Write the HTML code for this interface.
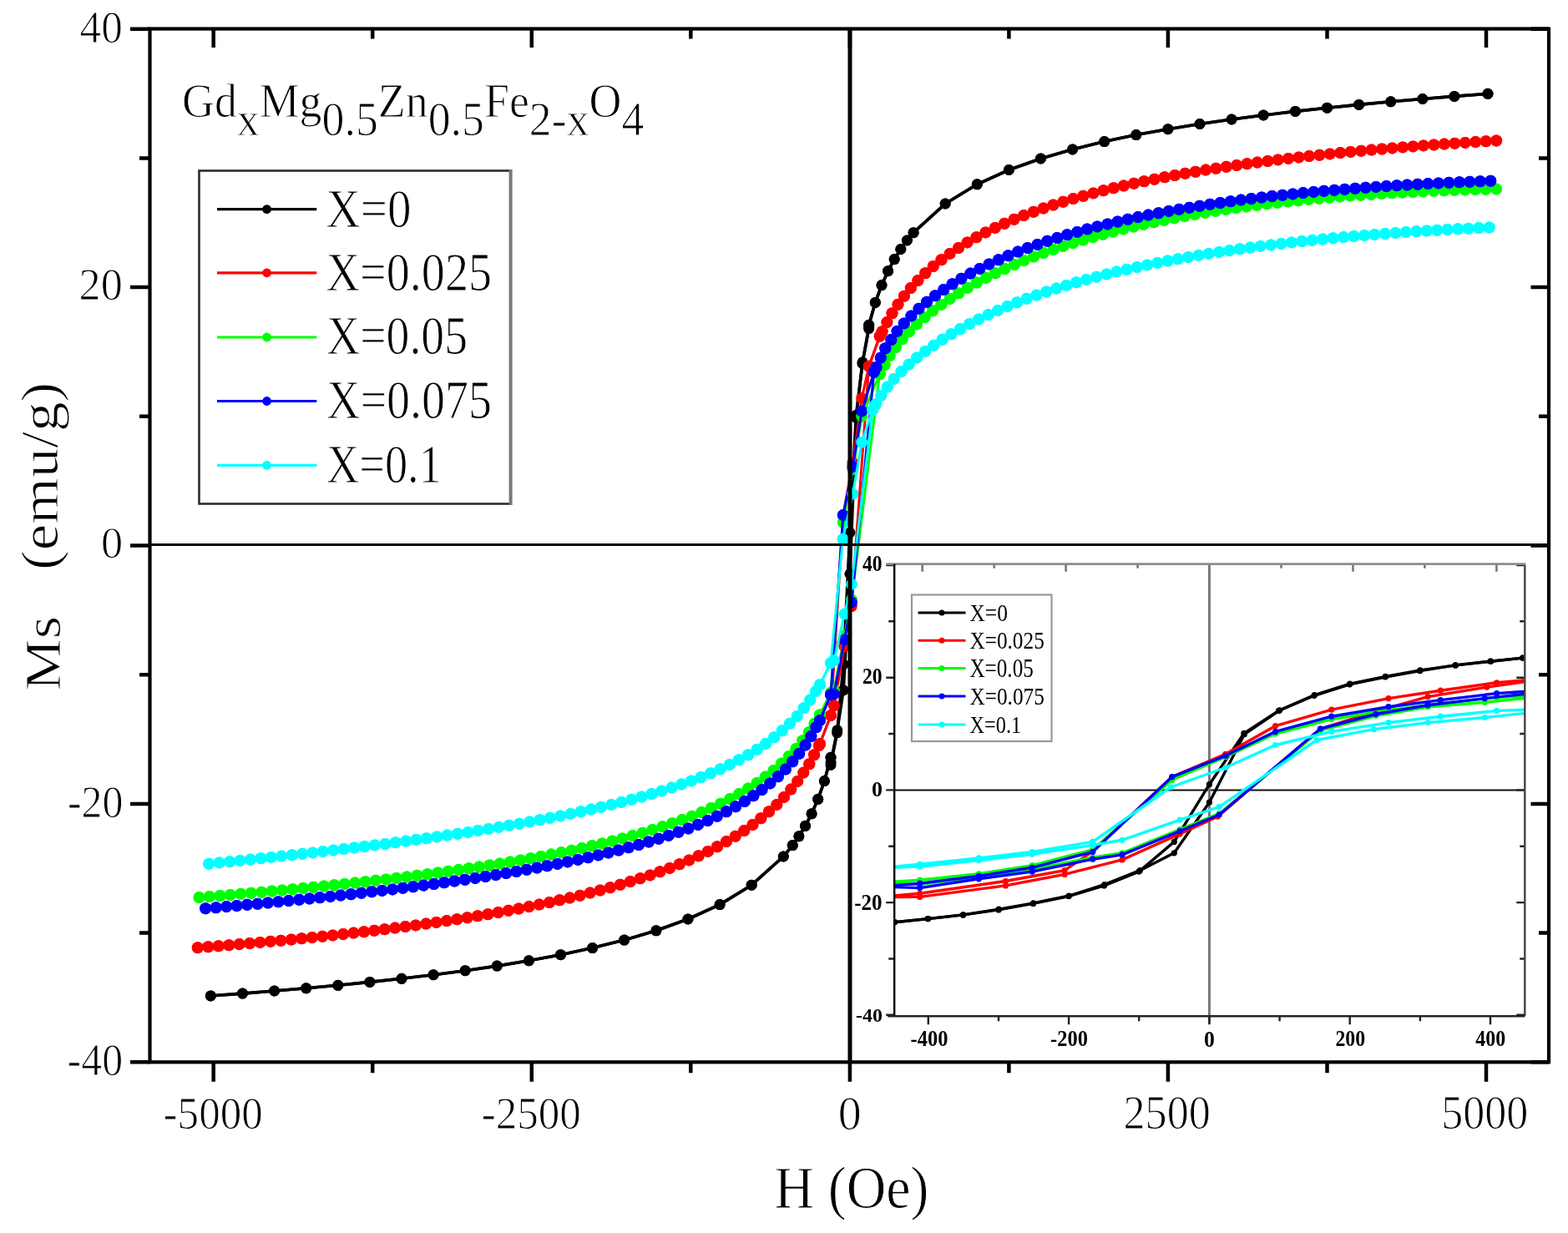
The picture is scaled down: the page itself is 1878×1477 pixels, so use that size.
<!DOCTYPE html>
<html><head><meta charset="utf-8"><title>M-H loops</title><style>html,body{margin:0;padding:0;background:#fff;}svg{display:block;}#w{width:1878px;height:1477px;overflow:hidden;}</style></head><body><div id="w">
<svg width="1878" height="1477" viewBox="0 0 1878 1477" font-family="'Liberation Serif', 'Times New Roman', serif">
<rect width="1878" height="1477" fill="#fff"/>
<path d="M156.0,1272.3H179.5 M1855,1272.3H1833.5 M167.0,1117.6H179.5 M1855,1117.6H1843 M156.0,962.9H179.5 M1855,962.9H1833.5 M167.0,808.2H179.5 M1855,808.2H1843 M156.0,653.5H179.5 M1855,653.5H1833.5 M167.0,498.8H179.5 M1855,498.8H1843 M156.0,344.1H179.5 M1855,344.1H1833.5 M167.0,189.4H179.5 M1855,189.4H1843 M156.0,34.7H179.5 M1855,34.7H1833.5 M255.7,1272.3V1295.8 M255.7,34.5V57.0 M446.2,1272.3V1285.3 M446.2,34.5V46.5 M636.8,1272.3V1295.8 M636.8,34.5V57.0 M827.3,1272.3V1285.3 M827.3,34.5V46.5 M1017.9,1272.3V1295.8 M1017.9,34.5V57.0 M1208.4,1272.3V1285.3 M1208.4,34.5V46.5 M1398.9,1272.3V1295.8 M1398.9,34.5V57.0 M1589.5,1272.3V1285.3 M1589.5,34.5V46.5 M1780.0,1272.3V1295.8 M1780.0,34.5V57.0" stroke="#000" stroke-width="4.5" fill="none"/>
<g fill="#000000" stroke="#000000"><polyline points="1782.0,112.3 1741.9,115.4 1703.8,118.5 1665.7,121.8 1627.6,125.4 1589.5,129.2 1551.4,133.4 1513.2,138.0 1475.1,143.0 1437.0,148.5 1398.9,154.7 1360.8,161.6 1322.7,169.6 1284.6,178.9 1246.5,190.0 1208.4,203.5 1170.3,220.8 1132.2,244.0 1094.1,278.7 1086.4,288.0 1078.8,298.5 1071.2,310.6 1063.6,324.7 1056.0,341.6 1048.3,362.4 1040.7,389.3 1040.6,393.6 1032.9,435.4 1025.4,497.3 1017.9,638.0 1010.2,795.8 1002.6,877.8 995.0,916.5 995.0,907.3 987.4,935.6 979.7,957.3 972.1,974.8 964.5,989.3 956.9,1001.8 949.3,1012.6 938.3,1026.0 900.2,1060.2 862.1,1083.6 824.0,1101.0 785.9,1114.8 747.7,1126.1 709.6,1135.6 671.5,1143.7 633.4,1150.8 595.3,1157.1 557.2,1162.7 519.1,1167.7 481.0,1172.3 442.9,1176.4 404.8,1180.3 366.7,1183.8 328.6,1187.0 290.5,1190.1 252.3,1192.9" fill="none" stroke-width="3.6" stroke-linejoin="round"/><polyline points="252.3,1192.9 290.5,1190.1 328.6,1187.0 366.7,1183.8 404.8,1180.3 442.9,1176.4 481.0,1172.3 519.1,1167.7 557.2,1162.7 595.3,1157.1 633.4,1150.8 671.5,1143.7 709.6,1135.6 747.7,1126.1 785.9,1114.8 824.0,1101.0 862.1,1083.6 900.2,1060.2 938.3,1026.0 949.3,1012.6 956.9,1001.8 964.5,989.3 972.1,974.8 979.7,957.3 987.4,935.6 995.0,907.3 995.1,913.4 1002.8,874.7 1010.2,826.8 1017.9,687.5 1025.4,500.3 1033.1,433.8 1040.7,392.1 1040.7,389.3 1048.3,362.4 1056.0,341.6 1063.6,324.7 1071.2,310.6 1078.8,298.5 1086.4,288.0 1094.1,278.7 1132.2,244.0 1170.3,220.8 1208.4,203.5 1246.5,190.0 1284.6,178.9 1322.7,169.6 1360.8,161.6 1398.9,154.7 1437.0,148.5 1475.1,143.0 1513.2,138.0 1551.4,133.4 1589.5,129.2 1627.6,125.4 1665.7,121.8 1703.8,118.5 1741.9,115.4 1782.0,112.3" fill="none" stroke-width="3.6" stroke-linejoin="round"/><circle cx="1782.0" cy="112.3" r="6.5" stroke="none"/><circle cx="1741.9" cy="115.4" r="6.5" stroke="none"/><circle cx="1703.8" cy="118.5" r="6.5" stroke="none"/><circle cx="1665.7" cy="121.8" r="6.5" stroke="none"/><circle cx="1627.6" cy="125.4" r="6.5" stroke="none"/><circle cx="1589.5" cy="129.2" r="6.5" stroke="none"/><circle cx="1551.4" cy="133.4" r="6.5" stroke="none"/><circle cx="1513.2" cy="138.0" r="6.5" stroke="none"/><circle cx="1475.1" cy="143.0" r="6.5" stroke="none"/><circle cx="1437.0" cy="148.5" r="6.5" stroke="none"/><circle cx="1398.9" cy="154.7" r="6.5" stroke="none"/><circle cx="1360.8" cy="161.6" r="6.5" stroke="none"/><circle cx="1322.7" cy="169.6" r="6.5" stroke="none"/><circle cx="1284.6" cy="178.9" r="6.5" stroke="none"/><circle cx="1246.5" cy="190.0" r="6.5" stroke="none"/><circle cx="1208.4" cy="203.5" r="6.5" stroke="none"/><circle cx="1170.3" cy="220.8" r="6.5" stroke="none"/><circle cx="1132.2" cy="244.0" r="6.5" stroke="none"/><circle cx="1094.1" cy="278.7" r="6.5" stroke="none"/><circle cx="1086.4" cy="288.0" r="6.5" stroke="none"/><circle cx="1078.8" cy="298.5" r="6.5" stroke="none"/><circle cx="1071.2" cy="310.6" r="6.5" stroke="none"/><circle cx="1063.6" cy="324.7" r="6.5" stroke="none"/><circle cx="1056.0" cy="341.6" r="6.5" stroke="none"/><circle cx="1048.3" cy="362.4" r="6.5" stroke="none"/><circle cx="1040.7" cy="389.3" r="6.5" stroke="none"/><circle cx="1040.6" cy="393.6" r="6.5" stroke="none"/><circle cx="1032.9" cy="435.4" r="6.5" stroke="none"/><circle cx="1025.4" cy="497.3" r="6.5" stroke="none"/><circle cx="1017.9" cy="638.0" r="6.5" stroke="none"/><circle cx="1010.2" cy="795.8" r="6.5" stroke="none"/><circle cx="1002.6" cy="877.8" r="6.5" stroke="none"/><circle cx="995.0" cy="916.5" r="6.5" stroke="none"/><circle cx="995.0" cy="907.3" r="6.5" stroke="none"/><circle cx="987.4" cy="935.6" r="6.5" stroke="none"/><circle cx="979.7" cy="957.3" r="6.5" stroke="none"/><circle cx="972.1" cy="974.8" r="6.5" stroke="none"/><circle cx="964.5" cy="989.3" r="6.5" stroke="none"/><circle cx="956.9" cy="1001.8" r="6.5" stroke="none"/><circle cx="949.3" cy="1012.6" r="6.5" stroke="none"/><circle cx="938.3" cy="1026.0" r="6.5" stroke="none"/><circle cx="900.2" cy="1060.2" r="6.5" stroke="none"/><circle cx="862.1" cy="1083.6" r="6.5" stroke="none"/><circle cx="824.0" cy="1101.0" r="6.5" stroke="none"/><circle cx="785.9" cy="1114.8" r="6.5" stroke="none"/><circle cx="747.7" cy="1126.1" r="6.5" stroke="none"/><circle cx="709.6" cy="1135.6" r="6.5" stroke="none"/><circle cx="671.5" cy="1143.7" r="6.5" stroke="none"/><circle cx="633.4" cy="1150.8" r="6.5" stroke="none"/><circle cx="595.3" cy="1157.1" r="6.5" stroke="none"/><circle cx="557.2" cy="1162.7" r="6.5" stroke="none"/><circle cx="519.1" cy="1167.7" r="6.5" stroke="none"/><circle cx="481.0" cy="1172.3" r="6.5" stroke="none"/><circle cx="442.9" cy="1176.4" r="6.5" stroke="none"/><circle cx="404.8" cy="1180.3" r="6.5" stroke="none"/><circle cx="366.7" cy="1183.8" r="6.5" stroke="none"/><circle cx="328.6" cy="1187.0" r="6.5" stroke="none"/><circle cx="290.5" cy="1190.1" r="6.5" stroke="none"/><circle cx="252.3" cy="1192.9" r="6.5" stroke="none"/><circle cx="252.3" cy="1192.9" r="6.5" stroke="none"/><circle cx="290.5" cy="1190.1" r="6.5" stroke="none"/><circle cx="328.6" cy="1187.0" r="6.5" stroke="none"/><circle cx="366.7" cy="1183.8" r="6.5" stroke="none"/><circle cx="404.8" cy="1180.3" r="6.5" stroke="none"/><circle cx="442.9" cy="1176.4" r="6.5" stroke="none"/><circle cx="481.0" cy="1172.3" r="6.5" stroke="none"/><circle cx="519.1" cy="1167.7" r="6.5" stroke="none"/><circle cx="557.2" cy="1162.7" r="6.5" stroke="none"/><circle cx="595.3" cy="1157.1" r="6.5" stroke="none"/><circle cx="633.4" cy="1150.8" r="6.5" stroke="none"/><circle cx="671.5" cy="1143.7" r="6.5" stroke="none"/><circle cx="709.6" cy="1135.6" r="6.5" stroke="none"/><circle cx="747.7" cy="1126.1" r="6.5" stroke="none"/><circle cx="785.9" cy="1114.8" r="6.5" stroke="none"/><circle cx="824.0" cy="1101.0" r="6.5" stroke="none"/><circle cx="862.1" cy="1083.6" r="6.5" stroke="none"/><circle cx="900.2" cy="1060.2" r="6.5" stroke="none"/><circle cx="938.3" cy="1026.0" r="6.5" stroke="none"/><circle cx="949.3" cy="1012.6" r="6.5" stroke="none"/><circle cx="956.9" cy="1001.8" r="6.5" stroke="none"/><circle cx="964.5" cy="989.3" r="6.5" stroke="none"/><circle cx="972.1" cy="974.8" r="6.5" stroke="none"/><circle cx="979.7" cy="957.3" r="6.5" stroke="none"/><circle cx="987.4" cy="935.6" r="6.5" stroke="none"/><circle cx="995.0" cy="907.3" r="6.5" stroke="none"/><circle cx="995.1" cy="913.4" r="6.5" stroke="none"/><circle cx="1002.8" cy="874.7" r="6.5" stroke="none"/><circle cx="1010.2" cy="826.8" r="6.5" stroke="none"/><circle cx="1017.9" cy="687.5" r="6.5" stroke="none"/><circle cx="1025.4" cy="500.3" r="6.5" stroke="none"/><circle cx="1033.1" cy="433.8" r="6.5" stroke="none"/><circle cx="1040.7" cy="392.1" r="6.5" stroke="none"/><circle cx="1040.7" cy="389.3" r="6.5" stroke="none"/><circle cx="1048.3" cy="362.4" r="6.5" stroke="none"/><circle cx="1056.0" cy="341.6" r="6.5" stroke="none"/><circle cx="1063.6" cy="324.7" r="6.5" stroke="none"/><circle cx="1071.2" cy="310.6" r="6.5" stroke="none"/><circle cx="1078.8" cy="298.5" r="6.5" stroke="none"/><circle cx="1086.4" cy="288.0" r="6.5" stroke="none"/><circle cx="1094.1" cy="278.7" r="6.5" stroke="none"/><circle cx="1132.2" cy="244.0" r="6.5" stroke="none"/><circle cx="1170.3" cy="220.8" r="6.5" stroke="none"/><circle cx="1208.4" cy="203.5" r="6.5" stroke="none"/><circle cx="1246.5" cy="190.0" r="6.5" stroke="none"/><circle cx="1284.6" cy="178.9" r="6.5" stroke="none"/><circle cx="1322.7" cy="169.6" r="6.5" stroke="none"/><circle cx="1360.8" cy="161.6" r="6.5" stroke="none"/><circle cx="1398.9" cy="154.7" r="6.5" stroke="none"/><circle cx="1437.0" cy="148.5" r="6.5" stroke="none"/><circle cx="1475.1" cy="143.0" r="6.5" stroke="none"/><circle cx="1513.2" cy="138.0" r="6.5" stroke="none"/><circle cx="1551.4" cy="133.4" r="6.5" stroke="none"/><circle cx="1589.5" cy="129.2" r="6.5" stroke="none"/><circle cx="1627.6" cy="125.4" r="6.5" stroke="none"/><circle cx="1665.7" cy="121.8" r="6.5" stroke="none"/><circle cx="1703.8" cy="118.5" r="6.5" stroke="none"/><circle cx="1741.9" cy="115.4" r="6.5" stroke="none"/><circle cx="1782.0" cy="112.3" r="6.5" stroke="none"/></g>
<g fill="#ff0000" stroke="#ff0000"><polyline points="1792.2,168.5 1779.2,169.3 1766.3,170.1 1753.3,171.0 1740.4,171.9 1727.4,172.8 1714.5,173.7 1701.5,174.7 1688.5,175.7 1675.6,176.7 1662.6,177.8 1649.7,179.0 1636.7,180.1 1623.8,181.3 1610.8,182.6 1597.8,183.9 1584.9,185.2 1571.9,186.6 1559.0,188.0 1546.0,189.5 1533.1,191.1 1520.1,192.7 1507.2,194.4 1494.2,196.2 1481.2,198.0 1468.3,199.9 1455.3,201.8 1442.4,203.9 1429.4,206.1 1416.5,208.3 1403.5,210.6 1390.5,213.1 1377.6,215.7 1364.6,218.4 1351.7,221.2 1338.7,224.1 1325.8,227.3 1312.8,230.6 1299.8,234.0 1286.9,237.7 1273.9,241.6 1261.0,245.7 1248.0,250.0 1235.1,254.7 1222.1,259.7 1209.1,265.0 1196.2,270.8 1183.2,277.0 1170.3,283.7 1157.3,291.1 1144.4,299.2 1131.4,308.3 1118.5,318.4 1105.5,329.8 1092.5,343.1 1079.6,358.7 1066.6,377.9 1053.7,402.8 1040.7,438.8 1032.2,477.1 1021.4,554.5 1009.8,617.1 995.0,857.0 982.0,891.0 969.1,915.6 956.1,934.8 943.2,950.6 930.2,964.0 917.2,975.6 904.3,985.9 891.3,995.0 878.4,1003.3 865.4,1010.8 852.5,1017.7 839.5,1024.0 826.6,1029.9 813.6,1035.4 800.6,1040.5 787.7,1045.2 774.7,1049.7 761.8,1054.0 748.8,1058.0 735.9,1061.8 722.9,1065.4 709.9,1068.8 697.0,1072.1 684.0,1075.2 671.1,1078.2 658.1,1081.0 645.2,1083.7 632.2,1086.4 619.2,1088.9 606.3,1091.3 593.3,1093.6 580.4,1095.8 567.4,1098.0 554.5,1100.1 541.5,1102.1 528.5,1104.0 515.6,1105.9 502.6,1107.7 489.7,1109.5 476.7,1111.2 463.8,1112.8 450.8,1114.4 437.9,1116.0 424.9,1117.5 411.9,1118.9 399.0,1120.3 386.0,1121.7 373.1,1123.1 360.1,1124.4 347.2,1125.6 334.2,1126.9 321.2,1128.1 308.3,1129.2 295.3,1130.4 282.4,1131.5 269.4,1132.6 256.5,1133.6 243.5,1134.7 236.8,1135.2" fill="none" stroke-width="3" stroke-linejoin="round"/><polyline points="236.8,1135.2 243.5,1134.7 256.5,1133.6 269.4,1132.6 282.4,1131.5 295.3,1130.4 308.3,1129.2 321.2,1128.1 334.2,1126.9 347.2,1125.6 360.1,1124.4 373.1,1123.1 386.0,1121.7 399.0,1120.3 411.9,1118.9 424.9,1117.5 437.9,1116.0 450.8,1114.4 463.8,1112.8 476.7,1111.2 489.7,1109.5 502.6,1107.7 515.6,1105.9 528.5,1104.0 541.5,1102.1 554.5,1100.1 567.4,1098.0 580.4,1095.8 593.3,1093.6 606.3,1091.3 619.2,1088.9 632.2,1086.4 645.2,1083.7 658.1,1081.0 671.1,1078.2 684.0,1075.2 697.0,1072.1 709.9,1068.8 722.9,1065.4 735.9,1061.8 748.8,1058.0 761.8,1054.0 774.7,1049.7 787.7,1045.2 800.6,1040.5 813.6,1035.4 826.6,1029.9 839.5,1024.0 852.5,1017.7 865.4,1010.8 878.4,1003.3 891.3,995.0 904.3,985.9 917.2,975.6 930.2,964.0 943.2,950.6 956.1,934.8 969.1,915.6 982.0,891.0 995.0,857.0 998.9,845.3 1011.4,774.2 1019.7,726.2 1040.7,438.8 1053.7,402.8 1066.6,377.9 1079.6,358.7 1092.5,343.1 1105.5,329.8 1118.5,318.4 1131.4,308.3 1144.4,299.2 1157.3,291.1 1170.3,283.7 1183.2,277.0 1196.2,270.8 1209.1,265.0 1222.1,259.7 1235.1,254.7 1248.0,250.0 1261.0,245.7 1273.9,241.6 1286.9,237.7 1299.8,234.0 1312.8,230.6 1325.8,227.3 1338.7,224.1 1351.7,221.2 1364.6,218.4 1377.6,215.7 1390.5,213.1 1403.5,210.6 1416.5,208.3 1429.4,206.1 1442.4,203.9 1455.3,201.8 1468.3,199.9 1481.2,198.0 1494.2,196.2 1507.2,194.4 1520.1,192.7 1533.1,191.1 1546.0,189.5 1559.0,188.0 1571.9,186.6 1584.9,185.2 1597.8,183.9 1610.8,182.6 1623.8,181.3 1636.7,180.1 1649.7,179.0 1662.6,177.8 1675.6,176.7 1688.5,175.7 1701.5,174.7 1714.5,173.7 1727.4,172.8 1740.4,171.9 1753.3,171.0 1766.3,170.1 1779.2,169.3 1792.2,168.5" fill="none" stroke-width="3" stroke-linejoin="round"/><circle cx="1792.2" cy="168.5" r="7.0" stroke="none"/><circle cx="1779.7" cy="169.3" r="7.0" stroke="none"/><circle cx="1767.2" cy="170.1" r="7.0" stroke="none"/><circle cx="1754.8" cy="170.9" r="7.0" stroke="none"/><circle cx="1742.3" cy="171.7" r="7.0" stroke="none"/><circle cx="1729.8" cy="172.6" r="7.0" stroke="none"/><circle cx="1717.4" cy="173.5" r="7.0" stroke="none"/><circle cx="1704.9" cy="174.4" r="7.0" stroke="none"/><circle cx="1692.4" cy="175.4" r="7.0" stroke="none"/><circle cx="1680.0" cy="176.4" r="7.0" stroke="none"/><circle cx="1667.5" cy="177.4" r="7.0" stroke="none"/><circle cx="1655.1" cy="178.5" r="7.0" stroke="none"/><circle cx="1642.6" cy="179.6" r="7.0" stroke="none"/><circle cx="1630.2" cy="180.7" r="7.0" stroke="none"/><circle cx="1617.7" cy="181.9" r="7.0" stroke="none"/><circle cx="1605.3" cy="183.1" r="7.0" stroke="none"/><circle cx="1592.8" cy="184.4" r="7.0" stroke="none"/><circle cx="1580.4" cy="185.7" r="7.0" stroke="none"/><circle cx="1568.0" cy="187.0" r="7.0" stroke="none"/><circle cx="1555.6" cy="188.4" r="7.0" stroke="none"/><circle cx="1543.1" cy="189.9" r="7.0" stroke="none"/><circle cx="1530.7" cy="191.4" r="7.0" stroke="none"/><circle cx="1518.3" cy="193.0" r="7.0" stroke="none"/><circle cx="1505.9" cy="194.6" r="7.0" stroke="none"/><circle cx="1493.6" cy="196.2" r="7.0" stroke="none"/><circle cx="1481.2" cy="198.0" r="7.0" stroke="none"/><circle cx="1468.8" cy="199.8" r="7.0" stroke="none"/><circle cx="1456.4" cy="201.7" r="7.0" stroke="none"/><circle cx="1444.1" cy="203.6" r="7.0" stroke="none"/><circle cx="1431.8" cy="205.7" r="7.0" stroke="none"/><circle cx="1419.4" cy="207.8" r="7.0" stroke="none"/><circle cx="1407.1" cy="210.0" r="7.0" stroke="none"/><circle cx="1394.9" cy="212.3" r="7.0" stroke="none"/><circle cx="1382.6" cy="214.7" r="7.0" stroke="none"/><circle cx="1370.3" cy="217.2" r="7.0" stroke="none"/><circle cx="1358.1" cy="219.8" r="7.0" stroke="none"/><circle cx="1345.9" cy="222.5" r="7.0" stroke="none"/><circle cx="1333.7" cy="225.3" r="7.0" stroke="none"/><circle cx="1321.6" cy="228.3" r="7.0" stroke="none"/><circle cx="1309.5" cy="231.4" r="7.0" stroke="none"/><circle cx="1297.4" cy="234.7" r="7.0" stroke="none"/><circle cx="1285.4" cy="238.1" r="7.0" stroke="none"/><circle cx="1273.4" cy="241.7" r="7.0" stroke="none"/><circle cx="1261.5" cy="245.5" r="7.0" stroke="none"/><circle cx="1249.7" cy="249.5" r="7.0" stroke="none"/><circle cx="1237.9" cy="253.7" r="7.0" stroke="none"/><circle cx="1226.2" cy="258.1" r="7.0" stroke="none"/><circle cx="1214.6" cy="262.8" r="7.0" stroke="none"/><circle cx="1203.1" cy="267.7" r="7.0" stroke="none"/><circle cx="1191.8" cy="272.9" r="7.0" stroke="none"/><circle cx="1180.5" cy="278.4" r="7.0" stroke="none"/><circle cx="1169.5" cy="284.2" r="7.0" stroke="none"/><circle cx="1158.6" cy="290.4" r="7.0" stroke="none"/><circle cx="1148.0" cy="297.0" r="7.0" stroke="none"/><circle cx="1137.6" cy="303.9" r="7.0" stroke="none"/><circle cx="1127.5" cy="311.3" r="7.0" stroke="none"/><circle cx="1117.7" cy="319.0" r="7.0" stroke="none"/><circle cx="1108.3" cy="327.3" r="7.0" stroke="none"/><circle cx="1099.4" cy="336.1" r="7.0" stroke="none"/><circle cx="1090.8" cy="345.1" r="7.0" stroke="none"/><circle cx="1082.9" cy="354.8" r="7.0" stroke="none"/><circle cx="1075.5" cy="364.8" r="7.0" stroke="none"/><circle cx="1068.5" cy="375.2" r="7.0" stroke="none"/><circle cx="1062.4" cy="386.1" r="7.0" stroke="none"/><circle cx="1056.6" cy="397.2" r="7.0" stroke="none"/><circle cx="1053.7" cy="402.8" r="7.0" stroke="none"/><circle cx="1040.7" cy="438.8" r="7.0" stroke="none"/><circle cx="1032.2" cy="477.1" r="7.0" stroke="none"/><circle cx="1021.4" cy="554.5" r="7.0" stroke="none"/><circle cx="1009.8" cy="617.1" r="7.0" stroke="none"/><circle cx="995.0" cy="857.0" r="7.0" stroke="none"/><circle cx="236.8" cy="1135.2" r="7.0" stroke="none"/><circle cx="249.3" cy="1134.2" r="7.0" stroke="none"/><circle cx="261.7" cy="1133.2" r="7.0" stroke="none"/><circle cx="274.2" cy="1132.2" r="7.0" stroke="none"/><circle cx="286.6" cy="1131.1" r="7.0" stroke="none"/><circle cx="299.1" cy="1130.0" r="7.0" stroke="none"/><circle cx="311.5" cy="1128.9" r="7.0" stroke="none"/><circle cx="324.0" cy="1127.8" r="7.0" stroke="none"/><circle cx="336.4" cy="1126.7" r="7.0" stroke="none"/><circle cx="348.9" cy="1125.5" r="7.0" stroke="none"/><circle cx="361.3" cy="1124.2" r="7.0" stroke="none"/><circle cx="373.8" cy="1123.0" r="7.0" stroke="none"/><circle cx="386.2" cy="1121.7" r="7.0" stroke="none"/><circle cx="398.6" cy="1120.4" r="7.0" stroke="none"/><circle cx="411.0" cy="1119.0" r="7.0" stroke="none"/><circle cx="423.5" cy="1117.6" r="7.0" stroke="none"/><circle cx="435.9" cy="1116.2" r="7.0" stroke="none"/><circle cx="448.3" cy="1114.7" r="7.0" stroke="none"/><circle cx="460.7" cy="1113.2" r="7.0" stroke="none"/><circle cx="473.1" cy="1111.6" r="7.0" stroke="none"/><circle cx="485.5" cy="1110.0" r="7.0" stroke="none"/><circle cx="497.9" cy="1108.4" r="7.0" stroke="none"/><circle cx="510.3" cy="1106.6" r="7.0" stroke="none"/><circle cx="522.6" cy="1104.9" r="7.0" stroke="none"/><circle cx="535.0" cy="1103.1" r="7.0" stroke="none"/><circle cx="547.4" cy="1101.2" r="7.0" stroke="none"/><circle cx="559.7" cy="1099.2" r="7.0" stroke="none"/><circle cx="572.1" cy="1097.2" r="7.0" stroke="none"/><circle cx="584.4" cy="1095.2" r="7.0" stroke="none"/><circle cx="596.7" cy="1093.0" r="7.0" stroke="none"/><circle cx="609.0" cy="1090.8" r="7.0" stroke="none"/><circle cx="621.3" cy="1088.5" r="7.0" stroke="none"/><circle cx="633.6" cy="1086.1" r="7.0" stroke="none"/><circle cx="645.8" cy="1083.6" r="7.0" stroke="none"/><circle cx="658.0" cy="1081.0" r="7.0" stroke="none"/><circle cx="670.2" cy="1078.3" r="7.0" stroke="none"/><circle cx="682.4" cy="1075.6" r="7.0" stroke="none"/><circle cx="694.6" cy="1072.7" r="7.0" stroke="none"/><circle cx="706.7" cy="1069.6" r="7.0" stroke="none"/><circle cx="718.8" cy="1066.5" r="7.0" stroke="none"/><circle cx="730.9" cy="1063.2" r="7.0" stroke="none"/><circle cx="742.9" cy="1059.7" r="7.0" stroke="none"/><circle cx="754.8" cy="1056.1" r="7.0" stroke="none"/><circle cx="766.8" cy="1052.3" r="7.0" stroke="none"/><circle cx="778.6" cy="1048.4" r="7.0" stroke="none"/><circle cx="790.4" cy="1044.2" r="7.0" stroke="none"/><circle cx="802.1" cy="1039.9" r="7.0" stroke="none"/><circle cx="813.8" cy="1035.3" r="7.0" stroke="none"/><circle cx="825.3" cy="1030.4" r="7.0" stroke="none"/><circle cx="836.7" cy="1025.3" r="7.0" stroke="none"/><circle cx="847.9" cy="1019.9" r="7.0" stroke="none"/><circle cx="859.1" cy="1014.2" r="7.0" stroke="none"/><circle cx="870.0" cy="1008.1" r="7.0" stroke="none"/><circle cx="880.8" cy="1001.8" r="7.0" stroke="none"/><circle cx="891.3" cy="995.1" r="7.0" stroke="none"/><circle cx="901.5" cy="987.9" r="7.0" stroke="none"/><circle cx="911.4" cy="980.2" r="7.0" stroke="none"/><circle cx="921.0" cy="972.3" r="7.0" stroke="none"/><circle cx="930.3" cy="963.9" r="7.0" stroke="none"/><circle cx="939.0" cy="954.9" r="7.0" stroke="none"/><circle cx="947.3" cy="945.6" r="7.0" stroke="none"/><circle cx="955.2" cy="935.9" r="7.0" stroke="none"/><circle cx="962.3" cy="925.6" r="7.0" stroke="none"/><circle cx="969.3" cy="915.2" r="7.0" stroke="none"/><circle cx="975.1" cy="904.2" r="7.0" stroke="none"/><circle cx="980.9" cy="893.1" r="7.0" stroke="none"/><circle cx="982.0" cy="891.0" r="7.0" stroke="none"/><circle cx="236.8" cy="1135.2" r="7.0" stroke="none"/><circle cx="249.3" cy="1134.2" r="7.0" stroke="none"/><circle cx="261.7" cy="1133.2" r="7.0" stroke="none"/><circle cx="274.2" cy="1132.2" r="7.0" stroke="none"/><circle cx="286.6" cy="1131.1" r="7.0" stroke="none"/><circle cx="299.1" cy="1130.0" r="7.0" stroke="none"/><circle cx="311.5" cy="1128.9" r="7.0" stroke="none"/><circle cx="324.0" cy="1127.8" r="7.0" stroke="none"/><circle cx="336.4" cy="1126.7" r="7.0" stroke="none"/><circle cx="348.9" cy="1125.5" r="7.0" stroke="none"/><circle cx="361.3" cy="1124.2" r="7.0" stroke="none"/><circle cx="373.8" cy="1123.0" r="7.0" stroke="none"/><circle cx="386.2" cy="1121.7" r="7.0" stroke="none"/><circle cx="398.6" cy="1120.4" r="7.0" stroke="none"/><circle cx="411.0" cy="1119.0" r="7.0" stroke="none"/><circle cx="423.5" cy="1117.6" r="7.0" stroke="none"/><circle cx="435.9" cy="1116.2" r="7.0" stroke="none"/><circle cx="448.3" cy="1114.7" r="7.0" stroke="none"/><circle cx="460.7" cy="1113.2" r="7.0" stroke="none"/><circle cx="473.1" cy="1111.6" r="7.0" stroke="none"/><circle cx="485.5" cy="1110.0" r="7.0" stroke="none"/><circle cx="497.9" cy="1108.4" r="7.0" stroke="none"/><circle cx="510.3" cy="1106.6" r="7.0" stroke="none"/><circle cx="522.6" cy="1104.9" r="7.0" stroke="none"/><circle cx="535.0" cy="1103.1" r="7.0" stroke="none"/><circle cx="547.4" cy="1101.2" r="7.0" stroke="none"/><circle cx="559.7" cy="1099.2" r="7.0" stroke="none"/><circle cx="572.1" cy="1097.2" r="7.0" stroke="none"/><circle cx="584.4" cy="1095.2" r="7.0" stroke="none"/><circle cx="596.7" cy="1093.0" r="7.0" stroke="none"/><circle cx="609.0" cy="1090.8" r="7.0" stroke="none"/><circle cx="621.3" cy="1088.5" r="7.0" stroke="none"/><circle cx="633.6" cy="1086.1" r="7.0" stroke="none"/><circle cx="645.8" cy="1083.6" r="7.0" stroke="none"/><circle cx="658.0" cy="1081.0" r="7.0" stroke="none"/><circle cx="670.2" cy="1078.3" r="7.0" stroke="none"/><circle cx="682.4" cy="1075.6" r="7.0" stroke="none"/><circle cx="694.6" cy="1072.7" r="7.0" stroke="none"/><circle cx="706.7" cy="1069.6" r="7.0" stroke="none"/><circle cx="718.8" cy="1066.5" r="7.0" stroke="none"/><circle cx="730.9" cy="1063.2" r="7.0" stroke="none"/><circle cx="742.9" cy="1059.7" r="7.0" stroke="none"/><circle cx="754.8" cy="1056.1" r="7.0" stroke="none"/><circle cx="766.8" cy="1052.3" r="7.0" stroke="none"/><circle cx="778.6" cy="1048.4" r="7.0" stroke="none"/><circle cx="790.4" cy="1044.2" r="7.0" stroke="none"/><circle cx="802.1" cy="1039.9" r="7.0" stroke="none"/><circle cx="813.8" cy="1035.3" r="7.0" stroke="none"/><circle cx="825.3" cy="1030.4" r="7.0" stroke="none"/><circle cx="836.7" cy="1025.3" r="7.0" stroke="none"/><circle cx="847.9" cy="1019.9" r="7.0" stroke="none"/><circle cx="859.1" cy="1014.2" r="7.0" stroke="none"/><circle cx="870.0" cy="1008.1" r="7.0" stroke="none"/><circle cx="880.8" cy="1001.8" r="7.0" stroke="none"/><circle cx="891.3" cy="995.1" r="7.0" stroke="none"/><circle cx="901.5" cy="987.9" r="7.0" stroke="none"/><circle cx="911.4" cy="980.2" r="7.0" stroke="none"/><circle cx="921.0" cy="972.3" r="7.0" stroke="none"/><circle cx="930.3" cy="963.9" r="7.0" stroke="none"/><circle cx="939.0" cy="954.9" r="7.0" stroke="none"/><circle cx="947.3" cy="945.6" r="7.0" stroke="none"/><circle cx="955.2" cy="935.9" r="7.0" stroke="none"/><circle cx="962.3" cy="925.6" r="7.0" stroke="none"/><circle cx="969.3" cy="915.2" r="7.0" stroke="none"/><circle cx="975.1" cy="904.2" r="7.0" stroke="none"/><circle cx="980.9" cy="893.1" r="7.0" stroke="none"/><circle cx="982.0" cy="891.0" r="7.0" stroke="none"/><circle cx="995.0" cy="857.0" r="7.0" stroke="none"/><circle cx="998.9" cy="845.3" r="7.0" stroke="none"/><circle cx="1011.4" cy="774.2" r="7.0" stroke="none"/><circle cx="1019.7" cy="726.2" r="7.0" stroke="none"/><circle cx="1040.7" cy="438.8" r="7.0" stroke="none"/><circle cx="1792.2" cy="168.5" r="7.0" stroke="none"/><circle cx="1779.7" cy="169.3" r="7.0" stroke="none"/><circle cx="1767.2" cy="170.1" r="7.0" stroke="none"/><circle cx="1754.8" cy="170.9" r="7.0" stroke="none"/><circle cx="1742.3" cy="171.7" r="7.0" stroke="none"/><circle cx="1729.8" cy="172.6" r="7.0" stroke="none"/><circle cx="1717.4" cy="173.5" r="7.0" stroke="none"/><circle cx="1704.9" cy="174.4" r="7.0" stroke="none"/><circle cx="1692.4" cy="175.4" r="7.0" stroke="none"/><circle cx="1680.0" cy="176.4" r="7.0" stroke="none"/><circle cx="1667.5" cy="177.4" r="7.0" stroke="none"/><circle cx="1655.1" cy="178.5" r="7.0" stroke="none"/><circle cx="1642.6" cy="179.6" r="7.0" stroke="none"/><circle cx="1630.2" cy="180.7" r="7.0" stroke="none"/><circle cx="1617.7" cy="181.9" r="7.0" stroke="none"/><circle cx="1605.3" cy="183.1" r="7.0" stroke="none"/><circle cx="1592.8" cy="184.4" r="7.0" stroke="none"/><circle cx="1580.4" cy="185.7" r="7.0" stroke="none"/><circle cx="1568.0" cy="187.0" r="7.0" stroke="none"/><circle cx="1555.6" cy="188.4" r="7.0" stroke="none"/><circle cx="1543.1" cy="189.9" r="7.0" stroke="none"/><circle cx="1530.7" cy="191.4" r="7.0" stroke="none"/><circle cx="1518.3" cy="193.0" r="7.0" stroke="none"/><circle cx="1505.9" cy="194.6" r="7.0" stroke="none"/><circle cx="1493.6" cy="196.2" r="7.0" stroke="none"/><circle cx="1481.2" cy="198.0" r="7.0" stroke="none"/><circle cx="1468.8" cy="199.8" r="7.0" stroke="none"/><circle cx="1456.4" cy="201.7" r="7.0" stroke="none"/><circle cx="1444.1" cy="203.6" r="7.0" stroke="none"/><circle cx="1431.8" cy="205.7" r="7.0" stroke="none"/><circle cx="1419.4" cy="207.8" r="7.0" stroke="none"/><circle cx="1407.1" cy="210.0" r="7.0" stroke="none"/><circle cx="1394.9" cy="212.3" r="7.0" stroke="none"/><circle cx="1382.6" cy="214.7" r="7.0" stroke="none"/><circle cx="1370.3" cy="217.2" r="7.0" stroke="none"/><circle cx="1358.1" cy="219.8" r="7.0" stroke="none"/><circle cx="1345.9" cy="222.5" r="7.0" stroke="none"/><circle cx="1333.7" cy="225.3" r="7.0" stroke="none"/><circle cx="1321.6" cy="228.3" r="7.0" stroke="none"/><circle cx="1309.5" cy="231.4" r="7.0" stroke="none"/><circle cx="1297.4" cy="234.7" r="7.0" stroke="none"/><circle cx="1285.4" cy="238.1" r="7.0" stroke="none"/><circle cx="1273.4" cy="241.7" r="7.0" stroke="none"/><circle cx="1261.5" cy="245.5" r="7.0" stroke="none"/><circle cx="1249.7" cy="249.5" r="7.0" stroke="none"/><circle cx="1237.9" cy="253.7" r="7.0" stroke="none"/><circle cx="1226.2" cy="258.1" r="7.0" stroke="none"/><circle cx="1214.6" cy="262.8" r="7.0" stroke="none"/><circle cx="1203.1" cy="267.7" r="7.0" stroke="none"/><circle cx="1191.8" cy="272.9" r="7.0" stroke="none"/><circle cx="1180.5" cy="278.4" r="7.0" stroke="none"/><circle cx="1169.5" cy="284.2" r="7.0" stroke="none"/><circle cx="1158.6" cy="290.4" r="7.0" stroke="none"/><circle cx="1148.0" cy="297.0" r="7.0" stroke="none"/><circle cx="1137.6" cy="303.9" r="7.0" stroke="none"/><circle cx="1127.5" cy="311.3" r="7.0" stroke="none"/><circle cx="1117.7" cy="319.0" r="7.0" stroke="none"/><circle cx="1108.3" cy="327.3" r="7.0" stroke="none"/><circle cx="1099.4" cy="336.1" r="7.0" stroke="none"/><circle cx="1090.8" cy="345.1" r="7.0" stroke="none"/><circle cx="1082.9" cy="354.8" r="7.0" stroke="none"/><circle cx="1075.5" cy="364.8" r="7.0" stroke="none"/><circle cx="1068.5" cy="375.2" r="7.0" stroke="none"/><circle cx="1062.4" cy="386.1" r="7.0" stroke="none"/><circle cx="1056.6" cy="397.2" r="7.0" stroke="none"/><circle cx="1053.7" cy="402.8" r="7.0" stroke="none"/></g>
<g fill="#00ff00" stroke="#00ff00"><polyline points="1792.0,226.4 1779.1,226.7 1766.1,227.0 1753.2,227.4 1740.2,227.9 1727.3,228.4 1714.3,228.9 1701.3,229.5 1688.4,230.1 1675.4,230.8 1662.5,231.6 1649.5,232.4 1636.6,233.2 1623.6,234.2 1610.7,235.1 1597.7,236.2 1584.7,237.3 1571.8,238.5 1558.8,239.8 1545.9,241.1 1532.9,242.5 1520.0,244.0 1507.0,245.6 1494.0,247.3 1481.1,249.0 1468.1,250.9 1455.2,252.9 1442.2,254.9 1429.3,257.1 1416.3,259.4 1403.3,261.9 1390.4,264.4 1377.4,267.1 1364.5,270.0 1351.5,273.0 1338.6,276.1 1325.6,279.5 1312.6,283.0 1299.7,286.7 1286.7,290.6 1273.8,294.8 1260.8,299.1 1247.9,303.8 1234.9,308.7 1222.0,313.9 1209.0,319.5 1196.0,325.4 1183.1,331.7 1170.1,338.5 1157.2,345.7 1144.2,353.6 1131.3,362.1 1118.3,371.5 1105.3,381.8 1092.4,393.6 1079.4,407.4 1066.5,424.5 1053.5,448.4 1032.2,498.8 1021.4,562.2 1009.8,625.7 995.0,829.9 982.0,856.3 969.1,877.1 956.1,893.9 943.2,907.9 930.2,919.9 917.2,930.2 904.3,939.4 891.3,947.6 878.4,954.9 865.4,961.6 852.5,967.7 839.5,973.4 826.6,978.6 813.6,983.4 800.6,987.9 787.7,992.2 774.7,996.2 761.8,999.9 748.8,1003.5 735.9,1006.9 722.9,1010.1 709.9,1013.1 697.0,1016.0 684.0,1018.8 671.1,1021.5 658.1,1024.0 645.2,1026.5 632.2,1028.9 619.2,1031.1 606.3,1033.3 593.3,1035.4 580.4,1037.5 567.4,1039.4 554.5,1041.4 541.5,1043.2 528.5,1045.0 515.6,1046.7 502.6,1048.4 489.7,1050.1 476.7,1051.7 463.8,1053.2 450.8,1054.7 437.9,1056.2 424.9,1057.6 411.9,1059.0 399.0,1060.4 386.0,1061.7 373.1,1063.0 360.1,1064.3 347.2,1065.5 334.2,1066.7 321.2,1067.9 308.3,1069.1 295.3,1070.2 282.4,1071.4 269.4,1072.5 256.5,1073.5 243.5,1074.6 238.5,1075.0" fill="none" stroke-width="3" stroke-linejoin="round"/><polyline points="238.5,1075.0 243.5,1074.6 256.5,1073.5 269.4,1072.5 282.4,1071.4 295.3,1070.2 308.3,1069.1 321.2,1067.9 334.2,1066.7 347.2,1065.5 360.1,1064.3 373.1,1063.0 386.0,1061.7 399.0,1060.4 411.9,1059.0 424.9,1057.6 437.9,1056.2 450.8,1054.7 463.8,1053.2 476.7,1051.7 489.7,1050.1 502.6,1048.4 515.6,1046.7 528.5,1045.0 541.5,1043.2 554.5,1041.4 567.4,1039.4 580.4,1037.5 593.3,1035.4 606.3,1033.3 619.2,1031.1 632.2,1028.9 645.2,1026.5 658.1,1024.0 671.1,1021.5 684.0,1018.8 697.0,1016.0 709.9,1013.1 722.9,1010.1 735.9,1006.9 748.8,1003.5 761.8,999.9 774.7,996.2 787.7,992.2 800.6,987.9 813.6,983.4 826.6,978.6 839.5,973.4 852.5,967.7 865.4,961.6 878.4,954.9 891.3,947.6 904.3,939.4 917.2,930.2 930.2,919.9 943.2,907.9 956.1,893.9 969.1,877.1 982.0,856.3 995.0,829.9 998.9,826.8 1011.4,761.8 1020.0,718.5 1053.5,448.4 1066.5,424.5 1079.4,407.4 1092.4,393.6 1105.3,381.8 1118.3,371.5 1131.3,362.1 1144.2,353.6 1157.2,345.7 1170.1,338.5 1183.1,331.7 1196.0,325.4 1209.0,319.5 1222.0,313.9 1234.9,308.7 1247.9,303.8 1260.8,299.1 1273.8,294.8 1286.7,290.6 1299.7,286.7 1312.6,283.0 1325.6,279.5 1338.6,276.1 1351.5,273.0 1364.5,270.0 1377.4,267.1 1390.4,264.4 1403.3,261.9 1416.3,259.4 1429.3,257.1 1442.2,254.9 1455.2,252.9 1468.1,250.9 1481.1,249.0 1494.0,247.3 1507.0,245.6 1520.0,244.0 1532.9,242.5 1545.9,241.1 1558.8,239.8 1571.8,238.5 1584.7,237.3 1597.7,236.2 1610.7,235.1 1623.6,234.2 1636.6,233.2 1649.5,232.4 1662.5,231.6 1675.4,230.8 1688.4,230.1 1701.3,229.5 1714.3,228.9 1727.3,228.4 1740.2,227.9 1753.2,227.4 1766.1,227.0 1779.1,226.7 1792.0,226.4" fill="none" stroke-width="3" stroke-linejoin="round"/><circle cx="1792.0" cy="226.4" r="7.0" stroke="none"/><circle cx="1779.5" cy="226.7" r="7.0" stroke="none"/><circle cx="1767.1" cy="227.0" r="7.0" stroke="none"/><circle cx="1754.6" cy="227.4" r="7.0" stroke="none"/><circle cx="1742.1" cy="227.8" r="7.0" stroke="none"/><circle cx="1729.6" cy="228.3" r="7.0" stroke="none"/><circle cx="1717.1" cy="228.8" r="7.0" stroke="none"/><circle cx="1704.6" cy="229.4" r="7.0" stroke="none"/><circle cx="1692.1" cy="230.0" r="7.0" stroke="none"/><circle cx="1679.6" cy="230.6" r="7.0" stroke="none"/><circle cx="1667.1" cy="231.3" r="7.0" stroke="none"/><circle cx="1654.7" cy="232.1" r="7.0" stroke="none"/><circle cx="1642.2" cy="232.9" r="7.0" stroke="none"/><circle cx="1629.7" cy="233.7" r="7.0" stroke="none"/><circle cx="1617.3" cy="234.6" r="7.0" stroke="none"/><circle cx="1604.8" cy="235.6" r="7.0" stroke="none"/><circle cx="1592.3" cy="236.7" r="7.0" stroke="none"/><circle cx="1579.9" cy="237.8" r="7.0" stroke="none"/><circle cx="1567.4" cy="238.9" r="7.0" stroke="none"/><circle cx="1555.0" cy="240.2" r="7.0" stroke="none"/><circle cx="1542.6" cy="241.5" r="7.0" stroke="none"/><circle cx="1530.1" cy="242.8" r="7.0" stroke="none"/><circle cx="1517.7" cy="244.3" r="7.0" stroke="none"/><circle cx="1505.3" cy="245.8" r="7.0" stroke="none"/><circle cx="1492.9" cy="247.4" r="7.0" stroke="none"/><circle cx="1480.5" cy="249.1" r="7.0" stroke="none"/><circle cx="1468.2" cy="250.9" r="7.0" stroke="none"/><circle cx="1455.8" cy="252.8" r="7.0" stroke="none"/><circle cx="1443.5" cy="254.7" r="7.0" stroke="none"/><circle cx="1431.1" cy="256.8" r="7.0" stroke="none"/><circle cx="1418.8" cy="259.0" r="7.0" stroke="none"/><circle cx="1406.5" cy="261.3" r="7.0" stroke="none"/><circle cx="1394.3" cy="263.7" r="7.0" stroke="none"/><circle cx="1382.0" cy="266.2" r="7.0" stroke="none"/><circle cx="1369.8" cy="268.8" r="7.0" stroke="none"/><circle cx="1357.6" cy="271.6" r="7.0" stroke="none"/><circle cx="1345.5" cy="274.4" r="7.0" stroke="none"/><circle cx="1333.3" cy="277.5" r="7.0" stroke="none"/><circle cx="1321.2" cy="280.7" r="7.0" stroke="none"/><circle cx="1309.2" cy="284.0" r="7.0" stroke="none"/><circle cx="1297.2" cy="287.5" r="7.0" stroke="none"/><circle cx="1285.2" cy="291.1" r="7.0" stroke="none"/><circle cx="1273.3" cy="294.9" r="7.0" stroke="none"/><circle cx="1261.5" cy="298.9" r="7.0" stroke="none"/><circle cx="1249.7" cy="303.1" r="7.0" stroke="none"/><circle cx="1238.0" cy="307.5" r="7.0" stroke="none"/><circle cx="1226.4" cy="312.1" r="7.0" stroke="none"/><circle cx="1214.9" cy="317.0" r="7.0" stroke="none"/><circle cx="1203.4" cy="322.0" r="7.0" stroke="none"/><circle cx="1192.1" cy="327.3" r="7.0" stroke="none"/><circle cx="1180.9" cy="332.8" r="7.0" stroke="none"/><circle cx="1169.8" cy="338.6" r="7.0" stroke="none"/><circle cx="1158.9" cy="344.8" r="7.0" stroke="none"/><circle cx="1148.2" cy="351.2" r="7.0" stroke="none"/><circle cx="1137.7" cy="357.9" r="7.0" stroke="none"/><circle cx="1127.3" cy="364.9" r="7.0" stroke="none"/><circle cx="1117.2" cy="372.3" r="7.0" stroke="none"/><circle cx="1107.5" cy="380.1" r="7.0" stroke="none"/><circle cx="1098.1" cy="388.4" r="7.0" stroke="none"/><circle cx="1089.1" cy="397.1" r="7.0" stroke="none"/><circle cx="1080.6" cy="406.2" r="7.0" stroke="none"/><circle cx="1072.9" cy="416.0" r="7.0" stroke="none"/><circle cx="1065.6" cy="426.1" r="7.0" stroke="none"/><circle cx="1059.6" cy="437.1" r="7.0" stroke="none"/><circle cx="1053.7" cy="448.1" r="7.0" stroke="none"/><circle cx="1053.5" cy="448.4" r="7.0" stroke="none"/><circle cx="1032.2" cy="498.8" r="7.0" stroke="none"/><circle cx="1021.4" cy="562.2" r="7.0" stroke="none"/><circle cx="1009.8" cy="625.7" r="7.0" stroke="none"/><circle cx="995.0" cy="829.9" r="7.0" stroke="none"/><circle cx="238.5" cy="1075.0" r="7.0" stroke="none"/><circle cx="250.9" cy="1074.0" r="7.0" stroke="none"/><circle cx="263.4" cy="1073.0" r="7.0" stroke="none"/><circle cx="275.8" cy="1071.9" r="7.0" stroke="none"/><circle cx="288.3" cy="1070.8" r="7.0" stroke="none"/><circle cx="300.8" cy="1069.8" r="7.0" stroke="none"/><circle cx="313.2" cy="1068.7" r="7.0" stroke="none"/><circle cx="325.7" cy="1067.5" r="7.0" stroke="none"/><circle cx="338.1" cy="1066.4" r="7.0" stroke="none"/><circle cx="350.5" cy="1065.2" r="7.0" stroke="none"/><circle cx="363.0" cy="1064.0" r="7.0" stroke="none"/><circle cx="375.4" cy="1062.8" r="7.0" stroke="none"/><circle cx="387.9" cy="1061.5" r="7.0" stroke="none"/><circle cx="400.3" cy="1060.2" r="7.0" stroke="none"/><circle cx="412.7" cy="1058.9" r="7.0" stroke="none"/><circle cx="425.2" cy="1057.6" r="7.0" stroke="none"/><circle cx="437.6" cy="1056.2" r="7.0" stroke="none"/><circle cx="450.0" cy="1054.8" r="7.0" stroke="none"/><circle cx="462.4" cy="1053.4" r="7.0" stroke="none"/><circle cx="474.8" cy="1051.9" r="7.0" stroke="none"/><circle cx="487.2" cy="1050.4" r="7.0" stroke="none"/><circle cx="499.6" cy="1048.8" r="7.0" stroke="none"/><circle cx="512.0" cy="1047.2" r="7.0" stroke="none"/><circle cx="524.4" cy="1045.5" r="7.0" stroke="none"/><circle cx="536.8" cy="1043.8" r="7.0" stroke="none"/><circle cx="549.2" cy="1042.1" r="7.0" stroke="none"/><circle cx="561.6" cy="1040.3" r="7.0" stroke="none"/><circle cx="573.9" cy="1038.5" r="7.0" stroke="none"/><circle cx="586.3" cy="1036.5" r="7.0" stroke="none"/><circle cx="598.6" cy="1034.6" r="7.0" stroke="none"/><circle cx="611.0" cy="1032.5" r="7.0" stroke="none"/><circle cx="623.3" cy="1030.4" r="7.0" stroke="none"/><circle cx="635.6" cy="1028.2" r="7.0" stroke="none"/><circle cx="647.9" cy="1026.0" r="7.0" stroke="none"/><circle cx="660.2" cy="1023.6" r="7.0" stroke="none"/><circle cx="672.4" cy="1021.2" r="7.0" stroke="none"/><circle cx="684.7" cy="1018.7" r="7.0" stroke="none"/><circle cx="696.9" cy="1016.1" r="7.0" stroke="none"/><circle cx="709.1" cy="1013.3" r="7.0" stroke="none"/><circle cx="721.2" cy="1010.5" r="7.0" stroke="none"/><circle cx="733.4" cy="1007.5" r="7.0" stroke="none"/><circle cx="745.5" cy="1004.4" r="7.0" stroke="none"/><circle cx="757.6" cy="1001.1" r="7.0" stroke="none"/><circle cx="769.6" cy="997.7" r="7.0" stroke="none"/><circle cx="781.5" cy="994.1" r="7.0" stroke="none"/><circle cx="793.5" cy="990.3" r="7.0" stroke="none"/><circle cx="805.3" cy="986.3" r="7.0" stroke="none"/><circle cx="817.1" cy="982.1" r="7.0" stroke="none"/><circle cx="828.8" cy="977.7" r="7.0" stroke="none"/><circle cx="840.4" cy="973.0" r="7.0" stroke="none"/><circle cx="851.8" cy="968.0" r="7.0" stroke="none"/><circle cx="863.1" cy="962.7" r="7.0" stroke="none"/><circle cx="874.3" cy="957.0" r="7.0" stroke="none"/><circle cx="885.2" cy="951.0" r="7.0" stroke="none"/><circle cx="896.0" cy="944.6" r="7.0" stroke="none"/><circle cx="906.5" cy="937.9" r="7.0" stroke="none"/><circle cx="916.7" cy="930.6" r="7.0" stroke="none"/><circle cx="926.5" cy="922.9" r="7.0" stroke="none"/><circle cx="935.9" cy="914.6" r="7.0" stroke="none"/><circle cx="944.9" cy="906.0" r="7.0" stroke="none"/><circle cx="953.4" cy="896.9" r="7.0" stroke="none"/><circle cx="961.3" cy="887.2" r="7.0" stroke="none"/><circle cx="968.9" cy="877.3" r="7.0" stroke="none"/><circle cx="975.6" cy="866.7" r="7.0" stroke="none"/><circle cx="982.0" cy="856.3" r="7.0" stroke="none"/><circle cx="238.5" cy="1075.0" r="7.0" stroke="none"/><circle cx="250.9" cy="1074.0" r="7.0" stroke="none"/><circle cx="263.4" cy="1073.0" r="7.0" stroke="none"/><circle cx="275.8" cy="1071.9" r="7.0" stroke="none"/><circle cx="288.3" cy="1070.8" r="7.0" stroke="none"/><circle cx="300.8" cy="1069.8" r="7.0" stroke="none"/><circle cx="313.2" cy="1068.7" r="7.0" stroke="none"/><circle cx="325.7" cy="1067.5" r="7.0" stroke="none"/><circle cx="338.1" cy="1066.4" r="7.0" stroke="none"/><circle cx="350.5" cy="1065.2" r="7.0" stroke="none"/><circle cx="363.0" cy="1064.0" r="7.0" stroke="none"/><circle cx="375.4" cy="1062.8" r="7.0" stroke="none"/><circle cx="387.9" cy="1061.5" r="7.0" stroke="none"/><circle cx="400.3" cy="1060.2" r="7.0" stroke="none"/><circle cx="412.7" cy="1058.9" r="7.0" stroke="none"/><circle cx="425.2" cy="1057.6" r="7.0" stroke="none"/><circle cx="437.6" cy="1056.2" r="7.0" stroke="none"/><circle cx="450.0" cy="1054.8" r="7.0" stroke="none"/><circle cx="462.4" cy="1053.4" r="7.0" stroke="none"/><circle cx="474.8" cy="1051.9" r="7.0" stroke="none"/><circle cx="487.2" cy="1050.4" r="7.0" stroke="none"/><circle cx="499.6" cy="1048.8" r="7.0" stroke="none"/><circle cx="512.0" cy="1047.2" r="7.0" stroke="none"/><circle cx="524.4" cy="1045.5" r="7.0" stroke="none"/><circle cx="536.8" cy="1043.8" r="7.0" stroke="none"/><circle cx="549.2" cy="1042.1" r="7.0" stroke="none"/><circle cx="561.6" cy="1040.3" r="7.0" stroke="none"/><circle cx="573.9" cy="1038.5" r="7.0" stroke="none"/><circle cx="586.3" cy="1036.5" r="7.0" stroke="none"/><circle cx="598.6" cy="1034.6" r="7.0" stroke="none"/><circle cx="611.0" cy="1032.5" r="7.0" stroke="none"/><circle cx="623.3" cy="1030.4" r="7.0" stroke="none"/><circle cx="635.6" cy="1028.2" r="7.0" stroke="none"/><circle cx="647.9" cy="1026.0" r="7.0" stroke="none"/><circle cx="660.2" cy="1023.6" r="7.0" stroke="none"/><circle cx="672.4" cy="1021.2" r="7.0" stroke="none"/><circle cx="684.7" cy="1018.7" r="7.0" stroke="none"/><circle cx="696.9" cy="1016.1" r="7.0" stroke="none"/><circle cx="709.1" cy="1013.3" r="7.0" stroke="none"/><circle cx="721.2" cy="1010.5" r="7.0" stroke="none"/><circle cx="733.4" cy="1007.5" r="7.0" stroke="none"/><circle cx="745.5" cy="1004.4" r="7.0" stroke="none"/><circle cx="757.6" cy="1001.1" r="7.0" stroke="none"/><circle cx="769.6" cy="997.7" r="7.0" stroke="none"/><circle cx="781.5" cy="994.1" r="7.0" stroke="none"/><circle cx="793.5" cy="990.3" r="7.0" stroke="none"/><circle cx="805.3" cy="986.3" r="7.0" stroke="none"/><circle cx="817.1" cy="982.1" r="7.0" stroke="none"/><circle cx="828.8" cy="977.7" r="7.0" stroke="none"/><circle cx="840.4" cy="973.0" r="7.0" stroke="none"/><circle cx="851.8" cy="968.0" r="7.0" stroke="none"/><circle cx="863.1" cy="962.7" r="7.0" stroke="none"/><circle cx="874.3" cy="957.0" r="7.0" stroke="none"/><circle cx="885.2" cy="951.0" r="7.0" stroke="none"/><circle cx="896.0" cy="944.6" r="7.0" stroke="none"/><circle cx="906.5" cy="937.9" r="7.0" stroke="none"/><circle cx="916.7" cy="930.6" r="7.0" stroke="none"/><circle cx="926.5" cy="922.9" r="7.0" stroke="none"/><circle cx="935.9" cy="914.6" r="7.0" stroke="none"/><circle cx="944.9" cy="906.0" r="7.0" stroke="none"/><circle cx="953.4" cy="896.9" r="7.0" stroke="none"/><circle cx="961.3" cy="887.2" r="7.0" stroke="none"/><circle cx="968.9" cy="877.3" r="7.0" stroke="none"/><circle cx="975.6" cy="866.7" r="7.0" stroke="none"/><circle cx="982.0" cy="856.3" r="7.0" stroke="none"/><circle cx="995.0" cy="829.9" r="7.0" stroke="none"/><circle cx="998.9" cy="826.8" r="7.0" stroke="none"/><circle cx="1011.4" cy="761.8" r="7.0" stroke="none"/><circle cx="1020.0" cy="718.5" r="7.0" stroke="none"/><circle cx="1792.0" cy="226.4" r="7.0" stroke="none"/><circle cx="1779.5" cy="226.7" r="7.0" stroke="none"/><circle cx="1767.1" cy="227.0" r="7.0" stroke="none"/><circle cx="1754.6" cy="227.4" r="7.0" stroke="none"/><circle cx="1742.1" cy="227.8" r="7.0" stroke="none"/><circle cx="1729.6" cy="228.3" r="7.0" stroke="none"/><circle cx="1717.1" cy="228.8" r="7.0" stroke="none"/><circle cx="1704.6" cy="229.4" r="7.0" stroke="none"/><circle cx="1692.1" cy="230.0" r="7.0" stroke="none"/><circle cx="1679.6" cy="230.6" r="7.0" stroke="none"/><circle cx="1667.1" cy="231.3" r="7.0" stroke="none"/><circle cx="1654.7" cy="232.1" r="7.0" stroke="none"/><circle cx="1642.2" cy="232.9" r="7.0" stroke="none"/><circle cx="1629.7" cy="233.7" r="7.0" stroke="none"/><circle cx="1617.3" cy="234.6" r="7.0" stroke="none"/><circle cx="1604.8" cy="235.6" r="7.0" stroke="none"/><circle cx="1592.3" cy="236.7" r="7.0" stroke="none"/><circle cx="1579.9" cy="237.8" r="7.0" stroke="none"/><circle cx="1567.4" cy="238.9" r="7.0" stroke="none"/><circle cx="1555.0" cy="240.2" r="7.0" stroke="none"/><circle cx="1542.6" cy="241.5" r="7.0" stroke="none"/><circle cx="1530.1" cy="242.8" r="7.0" stroke="none"/><circle cx="1517.7" cy="244.3" r="7.0" stroke="none"/><circle cx="1505.3" cy="245.8" r="7.0" stroke="none"/><circle cx="1492.9" cy="247.4" r="7.0" stroke="none"/><circle cx="1480.5" cy="249.1" r="7.0" stroke="none"/><circle cx="1468.2" cy="250.9" r="7.0" stroke="none"/><circle cx="1455.8" cy="252.8" r="7.0" stroke="none"/><circle cx="1443.5" cy="254.7" r="7.0" stroke="none"/><circle cx="1431.1" cy="256.8" r="7.0" stroke="none"/><circle cx="1418.8" cy="259.0" r="7.0" stroke="none"/><circle cx="1406.5" cy="261.3" r="7.0" stroke="none"/><circle cx="1394.3" cy="263.7" r="7.0" stroke="none"/><circle cx="1382.0" cy="266.2" r="7.0" stroke="none"/><circle cx="1369.8" cy="268.8" r="7.0" stroke="none"/><circle cx="1357.6" cy="271.6" r="7.0" stroke="none"/><circle cx="1345.5" cy="274.4" r="7.0" stroke="none"/><circle cx="1333.3" cy="277.5" r="7.0" stroke="none"/><circle cx="1321.2" cy="280.7" r="7.0" stroke="none"/><circle cx="1309.2" cy="284.0" r="7.0" stroke="none"/><circle cx="1297.2" cy="287.5" r="7.0" stroke="none"/><circle cx="1285.2" cy="291.1" r="7.0" stroke="none"/><circle cx="1273.3" cy="294.9" r="7.0" stroke="none"/><circle cx="1261.5" cy="298.9" r="7.0" stroke="none"/><circle cx="1249.7" cy="303.1" r="7.0" stroke="none"/><circle cx="1238.0" cy="307.5" r="7.0" stroke="none"/><circle cx="1226.4" cy="312.1" r="7.0" stroke="none"/><circle cx="1214.9" cy="317.0" r="7.0" stroke="none"/><circle cx="1203.4" cy="322.0" r="7.0" stroke="none"/><circle cx="1192.1" cy="327.3" r="7.0" stroke="none"/><circle cx="1180.9" cy="332.8" r="7.0" stroke="none"/><circle cx="1169.8" cy="338.6" r="7.0" stroke="none"/><circle cx="1158.9" cy="344.8" r="7.0" stroke="none"/><circle cx="1148.2" cy="351.2" r="7.0" stroke="none"/><circle cx="1137.7" cy="357.9" r="7.0" stroke="none"/><circle cx="1127.3" cy="364.9" r="7.0" stroke="none"/><circle cx="1117.2" cy="372.3" r="7.0" stroke="none"/><circle cx="1107.5" cy="380.1" r="7.0" stroke="none"/><circle cx="1098.1" cy="388.4" r="7.0" stroke="none"/><circle cx="1089.1" cy="397.1" r="7.0" stroke="none"/><circle cx="1080.6" cy="406.2" r="7.0" stroke="none"/><circle cx="1072.9" cy="416.0" r="7.0" stroke="none"/><circle cx="1065.6" cy="426.1" r="7.0" stroke="none"/><circle cx="1059.6" cy="437.1" r="7.0" stroke="none"/><circle cx="1053.7" cy="448.1" r="7.0" stroke="none"/><circle cx="1053.5" cy="448.4" r="7.0" stroke="none"/></g>
<g fill="#0000ff" stroke="#0000ff"><polyline points="1785.3,216.8 1772.4,217.3 1759.4,217.8 1746.5,218.3 1733.5,218.9 1720.6,219.6 1707.6,220.2 1694.6,220.9 1681.7,221.7 1668.7,222.5 1655.8,223.3 1642.8,224.2 1629.9,225.2 1616.9,226.2 1603.9,227.2 1591.0,228.3 1578.0,229.5 1565.1,230.7 1552.1,232.0 1539.2,233.3 1526.2,234.7 1513.2,236.2 1500.3,237.8 1487.3,239.4 1474.4,241.2 1461.4,243.0 1448.5,244.9 1435.5,246.9 1422.6,249.0 1409.6,251.2 1396.6,253.5 1383.7,255.9 1370.7,258.5 1357.8,261.2 1344.8,264.0 1331.9,267.0 1318.9,270.2 1305.9,273.5 1293.0,277.0 1280.0,280.8 1267.1,284.7 1254.1,288.9 1241.2,293.3 1228.2,298.0 1215.2,303.0 1202.3,308.4 1189.3,314.2 1176.4,320.3 1163.4,327.0 1150.5,334.2 1137.5,342.1 1124.6,350.8 1111.6,360.5 1098.6,371.3 1085.7,383.9 1072.7,398.9 1059.8,418.0 1046.8,445.7 1032.2,492.6 1021.4,559.1 1009.8,617.1 995.0,832.3 982.0,863.1 969.1,886.2 956.1,904.4 943.2,919.4 930.2,931.9 917.2,942.7 904.3,952.1 891.3,960.4 878.4,967.9 865.4,974.6 852.5,980.8 839.5,986.4 826.6,991.6 813.6,996.5 800.6,1001.0 787.7,1005.2 774.7,1009.1 761.8,1012.9 748.8,1016.4 735.9,1019.7 722.9,1022.9 709.9,1026.0 697.0,1028.8 684.0,1031.6 671.1,1034.2 658.1,1036.8 645.2,1039.2 632.2,1041.6 619.2,1043.8 606.3,1046.0 593.3,1048.2 580.4,1050.2 567.4,1052.2 554.5,1054.1 541.5,1056.0 528.5,1057.8 515.6,1059.5 502.6,1061.3 489.7,1062.9 476.7,1064.6 463.8,1066.1 450.8,1067.7 437.9,1069.2 424.9,1070.7 411.9,1072.1 399.0,1073.5 386.0,1074.9 373.1,1076.3 360.1,1077.6 347.2,1078.9 334.2,1080.2 321.2,1081.5 308.3,1082.7 295.3,1083.9 282.4,1085.1 269.4,1086.3 256.5,1087.4 246.2,1088.3" fill="none" stroke-width="3" stroke-linejoin="round"/><polyline points="246.2,1088.3 256.5,1087.4 269.4,1086.3 282.4,1085.1 295.3,1083.9 308.3,1082.7 321.2,1081.5 334.2,1080.2 347.2,1078.9 360.1,1077.6 373.1,1076.3 386.0,1074.9 399.0,1073.5 411.9,1072.1 424.9,1070.7 437.9,1069.2 450.8,1067.7 463.8,1066.1 476.7,1064.6 489.7,1062.9 502.6,1061.3 515.6,1059.5 528.5,1057.8 541.5,1056.0 554.5,1054.1 567.4,1052.2 580.4,1050.2 593.3,1048.2 606.3,1046.0 619.2,1043.8 632.2,1041.6 645.2,1039.2 658.1,1036.8 671.1,1034.2 684.0,1031.6 697.0,1028.8 709.9,1026.0 722.9,1022.9 735.9,1019.7 748.8,1016.4 761.8,1012.9 774.7,1009.1 787.7,1005.2 800.6,1001.0 813.6,996.5 826.6,991.6 839.5,986.4 852.5,980.8 865.4,974.6 878.4,967.9 891.3,960.4 904.3,952.1 917.2,942.7 930.2,931.9 943.2,919.4 956.1,904.4 969.1,886.2 982.0,863.1 995.0,832.3 998.9,831.4 1011.4,766.4 1020.0,721.6 1046.8,445.7 1059.8,418.0 1072.7,398.9 1085.7,383.9 1098.6,371.3 1111.6,360.5 1124.6,350.8 1137.5,342.1 1150.5,334.2 1163.4,327.0 1176.4,320.3 1189.3,314.2 1202.3,308.4 1215.2,303.0 1228.2,298.0 1241.2,293.3 1254.1,288.9 1267.1,284.7 1280.0,280.8 1293.0,277.0 1305.9,273.5 1318.9,270.2 1331.9,267.0 1344.8,264.0 1357.8,261.2 1370.7,258.5 1383.7,255.9 1396.6,253.5 1409.6,251.2 1422.6,249.0 1435.5,246.9 1448.5,244.9 1461.4,243.0 1474.4,241.2 1487.3,239.4 1500.3,237.8 1513.2,236.2 1526.2,234.7 1539.2,233.3 1552.1,232.0 1565.1,230.7 1578.0,229.5 1591.0,228.3 1603.9,227.2 1616.9,226.2 1629.9,225.2 1642.8,224.2 1655.8,223.3 1668.7,222.5 1681.7,221.7 1694.6,220.9 1707.6,220.2 1720.6,219.6 1733.5,218.9 1746.5,218.3 1759.4,217.8 1772.4,217.3 1785.3,216.8" fill="none" stroke-width="3" stroke-linejoin="round"/><circle cx="1785.3" cy="216.8" r="7.0" stroke="none"/><circle cx="1772.8" cy="217.2" r="7.0" stroke="none"/><circle cx="1760.4" cy="217.7" r="7.0" stroke="none"/><circle cx="1747.9" cy="218.3" r="7.0" stroke="none"/><circle cx="1735.4" cy="218.8" r="7.0" stroke="none"/><circle cx="1722.9" cy="219.4" r="7.0" stroke="none"/><circle cx="1710.4" cy="220.1" r="7.0" stroke="none"/><circle cx="1697.9" cy="220.8" r="7.0" stroke="none"/><circle cx="1685.4" cy="221.5" r="7.0" stroke="none"/><circle cx="1673.0" cy="222.2" r="7.0" stroke="none"/><circle cx="1660.5" cy="223.0" r="7.0" stroke="none"/><circle cx="1648.0" cy="223.9" r="7.0" stroke="none"/><circle cx="1635.6" cy="224.7" r="7.0" stroke="none"/><circle cx="1623.1" cy="225.7" r="7.0" stroke="none"/><circle cx="1610.6" cy="226.7" r="7.0" stroke="none"/><circle cx="1598.2" cy="227.7" r="7.0" stroke="none"/><circle cx="1585.7" cy="228.8" r="7.0" stroke="none"/><circle cx="1573.3" cy="229.9" r="7.0" stroke="none"/><circle cx="1560.8" cy="231.1" r="7.0" stroke="none"/><circle cx="1548.4" cy="232.4" r="7.0" stroke="none"/><circle cx="1536.0" cy="233.7" r="7.0" stroke="none"/><circle cx="1523.5" cy="235.0" r="7.0" stroke="none"/><circle cx="1511.1" cy="236.5" r="7.0" stroke="none"/><circle cx="1498.7" cy="238.0" r="7.0" stroke="none"/><circle cx="1486.3" cy="239.6" r="7.0" stroke="none"/><circle cx="1473.9" cy="241.2" r="7.0" stroke="none"/><circle cx="1461.5" cy="243.0" r="7.0" stroke="none"/><circle cx="1449.2" cy="244.8" r="7.0" stroke="none"/><circle cx="1436.8" cy="246.7" r="7.0" stroke="none"/><circle cx="1424.5" cy="248.7" r="7.0" stroke="none"/><circle cx="1412.2" cy="250.7" r="7.0" stroke="none"/><circle cx="1399.8" cy="252.9" r="7.0" stroke="none"/><circle cx="1387.6" cy="255.2" r="7.0" stroke="none"/><circle cx="1375.3" cy="257.6" r="7.0" stroke="none"/><circle cx="1363.0" cy="260.1" r="7.0" stroke="none"/><circle cx="1350.8" cy="262.7" r="7.0" stroke="none"/><circle cx="1338.6" cy="265.5" r="7.0" stroke="none"/><circle cx="1326.5" cy="268.4" r="7.0" stroke="none"/><circle cx="1314.3" cy="271.4" r="7.0" stroke="none"/><circle cx="1302.2" cy="274.5" r="7.0" stroke="none"/><circle cx="1290.2" cy="277.9" r="7.0" stroke="none"/><circle cx="1278.2" cy="281.3" r="7.0" stroke="none"/><circle cx="1266.2" cy="285.0" r="7.0" stroke="none"/><circle cx="1254.3" cy="288.8" r="7.0" stroke="none"/><circle cx="1242.5" cy="292.9" r="7.0" stroke="none"/><circle cx="1230.7" cy="297.1" r="7.0" stroke="none"/><circle cx="1219.1" cy="301.6" r="7.0" stroke="none"/><circle cx="1207.5" cy="306.3" r="7.0" stroke="none"/><circle cx="1196.0" cy="311.2" r="7.0" stroke="none"/><circle cx="1184.6" cy="316.4" r="7.0" stroke="none"/><circle cx="1173.4" cy="321.9" r="7.0" stroke="none"/><circle cx="1162.3" cy="327.6" r="7.0" stroke="none"/><circle cx="1151.4" cy="333.7" r="7.0" stroke="none"/><circle cx="1140.7" cy="340.2" r="7.0" stroke="none"/><circle cx="1130.2" cy="347.0" r="7.0" stroke="none"/><circle cx="1120.0" cy="354.2" r="7.0" stroke="none"/><circle cx="1110.0" cy="361.8" r="7.0" stroke="none"/><circle cx="1100.5" cy="369.8" r="7.0" stroke="none"/><circle cx="1091.4" cy="378.4" r="7.0" stroke="none"/><circle cx="1082.7" cy="387.4" r="7.0" stroke="none"/><circle cx="1074.5" cy="396.8" r="7.0" stroke="none"/><circle cx="1067.3" cy="407.0" r="7.0" stroke="none"/><circle cx="1060.3" cy="417.3" r="7.0" stroke="none"/><circle cx="1054.8" cy="428.6" r="7.0" stroke="none"/><circle cx="1049.5" cy="439.9" r="7.0" stroke="none"/><circle cx="1046.8" cy="445.7" r="7.0" stroke="none"/><circle cx="1032.2" cy="492.6" r="7.0" stroke="none"/><circle cx="1021.4" cy="559.1" r="7.0" stroke="none"/><circle cx="1009.8" cy="617.1" r="7.0" stroke="none"/><circle cx="995.0" cy="832.3" r="7.0" stroke="none"/><circle cx="246.2" cy="1088.3" r="7.0" stroke="none"/><circle cx="258.7" cy="1087.2" r="7.0" stroke="none"/><circle cx="271.2" cy="1086.1" r="7.0" stroke="none"/><circle cx="283.6" cy="1085.0" r="7.0" stroke="none"/><circle cx="296.0" cy="1083.8" r="7.0" stroke="none"/><circle cx="308.5" cy="1082.7" r="7.0" stroke="none"/><circle cx="320.9" cy="1081.5" r="7.0" stroke="none"/><circle cx="333.4" cy="1080.3" r="7.0" stroke="none"/><circle cx="345.8" cy="1079.1" r="7.0" stroke="none"/><circle cx="358.3" cy="1077.8" r="7.0" stroke="none"/><circle cx="370.7" cy="1076.5" r="7.0" stroke="none"/><circle cx="383.1" cy="1075.2" r="7.0" stroke="none"/><circle cx="395.6" cy="1073.9" r="7.0" stroke="none"/><circle cx="408.0" cy="1072.6" r="7.0" stroke="none"/><circle cx="420.4" cy="1071.2" r="7.0" stroke="none"/><circle cx="432.8" cy="1069.8" r="7.0" stroke="none"/><circle cx="445.2" cy="1068.3" r="7.0" stroke="none"/><circle cx="457.7" cy="1066.9" r="7.0" stroke="none"/><circle cx="470.1" cy="1065.4" r="7.0" stroke="none"/><circle cx="482.5" cy="1063.8" r="7.0" stroke="none"/><circle cx="494.9" cy="1062.3" r="7.0" stroke="none"/><circle cx="507.3" cy="1060.6" r="7.0" stroke="none"/><circle cx="519.7" cy="1059.0" r="7.0" stroke="none"/><circle cx="532.0" cy="1057.3" r="7.0" stroke="none"/><circle cx="544.4" cy="1055.5" r="7.0" stroke="none"/><circle cx="556.8" cy="1053.8" r="7.0" stroke="none"/><circle cx="569.2" cy="1051.9" r="7.0" stroke="none"/><circle cx="581.5" cy="1050.0" r="7.0" stroke="none"/><circle cx="593.9" cy="1048.1" r="7.0" stroke="none"/><circle cx="606.2" cy="1046.1" r="7.0" stroke="none"/><circle cx="618.5" cy="1044.0" r="7.0" stroke="none"/><circle cx="630.8" cy="1041.8" r="7.0" stroke="none"/><circle cx="643.1" cy="1039.6" r="7.0" stroke="none"/><circle cx="655.4" cy="1037.3" r="7.0" stroke="none"/><circle cx="667.7" cy="1034.9" r="7.0" stroke="none"/><circle cx="679.9" cy="1032.4" r="7.0" stroke="none"/><circle cx="692.2" cy="1029.9" r="7.0" stroke="none"/><circle cx="704.4" cy="1027.2" r="7.0" stroke="none"/><circle cx="716.6" cy="1024.4" r="7.0" stroke="none"/><circle cx="728.7" cy="1021.5" r="7.0" stroke="none"/><circle cx="740.9" cy="1018.5" r="7.0" stroke="none"/><circle cx="752.9" cy="1015.3" r="7.0" stroke="none"/><circle cx="765.0" cy="1012.0" r="7.0" stroke="none"/><circle cx="777.0" cy="1008.5" r="7.0" stroke="none"/><circle cx="788.9" cy="1004.8" r="7.0" stroke="none"/><circle cx="800.8" cy="1000.9" r="7.0" stroke="none"/><circle cx="812.6" cy="996.8" r="7.0" stroke="none"/><circle cx="824.4" cy="992.5" r="7.0" stroke="none"/><circle cx="836.0" cy="987.9" r="7.0" stroke="none"/><circle cx="847.5" cy="983.0" r="7.0" stroke="none"/><circle cx="858.8" cy="977.8" r="7.0" stroke="none"/><circle cx="870.0" cy="972.2" r="7.0" stroke="none"/><circle cx="881.1" cy="966.3" r="7.0" stroke="none"/><circle cx="891.9" cy="960.1" r="7.0" stroke="none"/><circle cx="902.4" cy="953.3" r="7.0" stroke="none"/><circle cx="912.6" cy="946.1" r="7.0" stroke="none"/><circle cx="922.4" cy="938.4" r="7.0" stroke="none"/><circle cx="931.9" cy="930.2" r="7.0" stroke="none"/><circle cx="940.9" cy="921.6" r="7.0" stroke="none"/><circle cx="949.3" cy="912.3" r="7.0" stroke="none"/><circle cx="957.3" cy="902.7" r="7.0" stroke="none"/><circle cx="964.6" cy="892.6" r="7.0" stroke="none"/><circle cx="971.4" cy="882.1" r="7.0" stroke="none"/><circle cx="977.5" cy="871.2" r="7.0" stroke="none"/><circle cx="982.0" cy="863.1" r="7.0" stroke="none"/><circle cx="246.2" cy="1088.3" r="7.0" stroke="none"/><circle cx="258.7" cy="1087.2" r="7.0" stroke="none"/><circle cx="271.2" cy="1086.1" r="7.0" stroke="none"/><circle cx="283.6" cy="1085.0" r="7.0" stroke="none"/><circle cx="296.0" cy="1083.8" r="7.0" stroke="none"/><circle cx="308.5" cy="1082.7" r="7.0" stroke="none"/><circle cx="320.9" cy="1081.5" r="7.0" stroke="none"/><circle cx="333.4" cy="1080.3" r="7.0" stroke="none"/><circle cx="345.8" cy="1079.1" r="7.0" stroke="none"/><circle cx="358.3" cy="1077.8" r="7.0" stroke="none"/><circle cx="370.7" cy="1076.5" r="7.0" stroke="none"/><circle cx="383.1" cy="1075.2" r="7.0" stroke="none"/><circle cx="395.6" cy="1073.9" r="7.0" stroke="none"/><circle cx="408.0" cy="1072.6" r="7.0" stroke="none"/><circle cx="420.4" cy="1071.2" r="7.0" stroke="none"/><circle cx="432.8" cy="1069.8" r="7.0" stroke="none"/><circle cx="445.2" cy="1068.3" r="7.0" stroke="none"/><circle cx="457.7" cy="1066.9" r="7.0" stroke="none"/><circle cx="470.1" cy="1065.4" r="7.0" stroke="none"/><circle cx="482.5" cy="1063.8" r="7.0" stroke="none"/><circle cx="494.9" cy="1062.3" r="7.0" stroke="none"/><circle cx="507.3" cy="1060.6" r="7.0" stroke="none"/><circle cx="519.7" cy="1059.0" r="7.0" stroke="none"/><circle cx="532.0" cy="1057.3" r="7.0" stroke="none"/><circle cx="544.4" cy="1055.5" r="7.0" stroke="none"/><circle cx="556.8" cy="1053.8" r="7.0" stroke="none"/><circle cx="569.2" cy="1051.9" r="7.0" stroke="none"/><circle cx="581.5" cy="1050.0" r="7.0" stroke="none"/><circle cx="593.9" cy="1048.1" r="7.0" stroke="none"/><circle cx="606.2" cy="1046.1" r="7.0" stroke="none"/><circle cx="618.5" cy="1044.0" r="7.0" stroke="none"/><circle cx="630.8" cy="1041.8" r="7.0" stroke="none"/><circle cx="643.1" cy="1039.6" r="7.0" stroke="none"/><circle cx="655.4" cy="1037.3" r="7.0" stroke="none"/><circle cx="667.7" cy="1034.9" r="7.0" stroke="none"/><circle cx="679.9" cy="1032.4" r="7.0" stroke="none"/><circle cx="692.2" cy="1029.9" r="7.0" stroke="none"/><circle cx="704.4" cy="1027.2" r="7.0" stroke="none"/><circle cx="716.6" cy="1024.4" r="7.0" stroke="none"/><circle cx="728.7" cy="1021.5" r="7.0" stroke="none"/><circle cx="740.9" cy="1018.5" r="7.0" stroke="none"/><circle cx="752.9" cy="1015.3" r="7.0" stroke="none"/><circle cx="765.0" cy="1012.0" r="7.0" stroke="none"/><circle cx="777.0" cy="1008.5" r="7.0" stroke="none"/><circle cx="788.9" cy="1004.8" r="7.0" stroke="none"/><circle cx="800.8" cy="1000.9" r="7.0" stroke="none"/><circle cx="812.6" cy="996.8" r="7.0" stroke="none"/><circle cx="824.4" cy="992.5" r="7.0" stroke="none"/><circle cx="836.0" cy="987.9" r="7.0" stroke="none"/><circle cx="847.5" cy="983.0" r="7.0" stroke="none"/><circle cx="858.8" cy="977.8" r="7.0" stroke="none"/><circle cx="870.0" cy="972.2" r="7.0" stroke="none"/><circle cx="881.1" cy="966.3" r="7.0" stroke="none"/><circle cx="891.9" cy="960.1" r="7.0" stroke="none"/><circle cx="902.4" cy="953.3" r="7.0" stroke="none"/><circle cx="912.6" cy="946.1" r="7.0" stroke="none"/><circle cx="922.4" cy="938.4" r="7.0" stroke="none"/><circle cx="931.9" cy="930.2" r="7.0" stroke="none"/><circle cx="940.9" cy="921.6" r="7.0" stroke="none"/><circle cx="949.3" cy="912.3" r="7.0" stroke="none"/><circle cx="957.3" cy="902.7" r="7.0" stroke="none"/><circle cx="964.6" cy="892.6" r="7.0" stroke="none"/><circle cx="971.4" cy="882.1" r="7.0" stroke="none"/><circle cx="977.5" cy="871.2" r="7.0" stroke="none"/><circle cx="982.0" cy="863.1" r="7.0" stroke="none"/><circle cx="995.0" cy="832.3" r="7.0" stroke="none"/><circle cx="998.9" cy="831.4" r="7.0" stroke="none"/><circle cx="1011.4" cy="766.4" r="7.0" stroke="none"/><circle cx="1020.0" cy="721.6" r="7.0" stroke="none"/><circle cx="1785.3" cy="216.8" r="7.0" stroke="none"/><circle cx="1772.8" cy="217.2" r="7.0" stroke="none"/><circle cx="1760.4" cy="217.7" r="7.0" stroke="none"/><circle cx="1747.9" cy="218.3" r="7.0" stroke="none"/><circle cx="1735.4" cy="218.8" r="7.0" stroke="none"/><circle cx="1722.9" cy="219.4" r="7.0" stroke="none"/><circle cx="1710.4" cy="220.1" r="7.0" stroke="none"/><circle cx="1697.9" cy="220.8" r="7.0" stroke="none"/><circle cx="1685.4" cy="221.5" r="7.0" stroke="none"/><circle cx="1673.0" cy="222.2" r="7.0" stroke="none"/><circle cx="1660.5" cy="223.0" r="7.0" stroke="none"/><circle cx="1648.0" cy="223.9" r="7.0" stroke="none"/><circle cx="1635.6" cy="224.7" r="7.0" stroke="none"/><circle cx="1623.1" cy="225.7" r="7.0" stroke="none"/><circle cx="1610.6" cy="226.7" r="7.0" stroke="none"/><circle cx="1598.2" cy="227.7" r="7.0" stroke="none"/><circle cx="1585.7" cy="228.8" r="7.0" stroke="none"/><circle cx="1573.3" cy="229.9" r="7.0" stroke="none"/><circle cx="1560.8" cy="231.1" r="7.0" stroke="none"/><circle cx="1548.4" cy="232.4" r="7.0" stroke="none"/><circle cx="1536.0" cy="233.7" r="7.0" stroke="none"/><circle cx="1523.5" cy="235.0" r="7.0" stroke="none"/><circle cx="1511.1" cy="236.5" r="7.0" stroke="none"/><circle cx="1498.7" cy="238.0" r="7.0" stroke="none"/><circle cx="1486.3" cy="239.6" r="7.0" stroke="none"/><circle cx="1473.9" cy="241.2" r="7.0" stroke="none"/><circle cx="1461.5" cy="243.0" r="7.0" stroke="none"/><circle cx="1449.2" cy="244.8" r="7.0" stroke="none"/><circle cx="1436.8" cy="246.7" r="7.0" stroke="none"/><circle cx="1424.5" cy="248.7" r="7.0" stroke="none"/><circle cx="1412.2" cy="250.7" r="7.0" stroke="none"/><circle cx="1399.8" cy="252.9" r="7.0" stroke="none"/><circle cx="1387.6" cy="255.2" r="7.0" stroke="none"/><circle cx="1375.3" cy="257.6" r="7.0" stroke="none"/><circle cx="1363.0" cy="260.1" r="7.0" stroke="none"/><circle cx="1350.8" cy="262.7" r="7.0" stroke="none"/><circle cx="1338.6" cy="265.5" r="7.0" stroke="none"/><circle cx="1326.5" cy="268.4" r="7.0" stroke="none"/><circle cx="1314.3" cy="271.4" r="7.0" stroke="none"/><circle cx="1302.2" cy="274.5" r="7.0" stroke="none"/><circle cx="1290.2" cy="277.9" r="7.0" stroke="none"/><circle cx="1278.2" cy="281.3" r="7.0" stroke="none"/><circle cx="1266.2" cy="285.0" r="7.0" stroke="none"/><circle cx="1254.3" cy="288.8" r="7.0" stroke="none"/><circle cx="1242.5" cy="292.9" r="7.0" stroke="none"/><circle cx="1230.7" cy="297.1" r="7.0" stroke="none"/><circle cx="1219.1" cy="301.6" r="7.0" stroke="none"/><circle cx="1207.5" cy="306.3" r="7.0" stroke="none"/><circle cx="1196.0" cy="311.2" r="7.0" stroke="none"/><circle cx="1184.6" cy="316.4" r="7.0" stroke="none"/><circle cx="1173.4" cy="321.9" r="7.0" stroke="none"/><circle cx="1162.3" cy="327.6" r="7.0" stroke="none"/><circle cx="1151.4" cy="333.7" r="7.0" stroke="none"/><circle cx="1140.7" cy="340.2" r="7.0" stroke="none"/><circle cx="1130.2" cy="347.0" r="7.0" stroke="none"/><circle cx="1120.0" cy="354.2" r="7.0" stroke="none"/><circle cx="1110.0" cy="361.8" r="7.0" stroke="none"/><circle cx="1100.5" cy="369.8" r="7.0" stroke="none"/><circle cx="1091.4" cy="378.4" r="7.0" stroke="none"/><circle cx="1082.7" cy="387.4" r="7.0" stroke="none"/><circle cx="1074.5" cy="396.8" r="7.0" stroke="none"/><circle cx="1067.3" cy="407.0" r="7.0" stroke="none"/><circle cx="1060.3" cy="417.3" r="7.0" stroke="none"/><circle cx="1054.8" cy="428.6" r="7.0" stroke="none"/><circle cx="1049.5" cy="439.9" r="7.0" stroke="none"/><circle cx="1046.8" cy="445.7" r="7.0" stroke="none"/></g>
<g fill="#00ffff" stroke="#00ffff"><polyline points="1783.7,272.5 1770.7,273.1 1757.7,273.7 1744.8,274.4 1731.8,275.1 1718.9,275.9 1705.9,276.7 1693.0,277.5 1680.0,278.4 1667.0,279.3 1654.1,280.3 1641.1,281.3 1628.2,282.4 1615.2,283.5 1602.3,284.7 1589.3,286.0 1576.4,287.3 1563.4,288.6 1550.4,290.0 1537.5,291.5 1524.5,293.1 1511.6,294.7 1498.6,296.4 1485.7,298.2 1472.7,300.0 1459.7,302.0 1446.8,304.0 1433.8,306.2 1420.9,308.4 1407.9,310.7 1395.0,313.2 1382.0,315.7 1369.0,318.4 1356.1,321.3 1343.1,324.2 1330.2,327.3 1317.2,330.6 1304.3,334.0 1291.3,337.7 1278.4,341.5 1265.4,345.5 1252.4,349.7 1239.5,354.2 1226.5,359.0 1213.6,364.0 1200.6,369.4 1187.7,375.1 1174.7,381.2 1161.7,387.7 1148.8,394.7 1135.8,402.3 1122.9,410.5 1109.9,419.5 1097.0,429.4 1084.0,440.6 1071.0,453.5 1058.1,469.3 1045.1,491.1 1032.2,529.7 1021.4,591.6 1009.5,645.8 995.0,794.1 982.0,820.2 969.1,840.4 956.1,856.5 943.2,869.7 930.2,881.0 917.2,890.7 904.3,899.3 891.3,906.9 878.4,913.8 865.4,920.1 852.5,925.8 839.5,931.1 826.6,936.0 813.6,940.6 800.6,944.9 787.7,948.9 774.7,952.7 761.8,956.3 748.8,959.8 735.9,963.0 722.9,966.2 709.9,969.1 697.0,972.0 684.0,974.8 671.1,977.4 658.1,980.0 645.2,982.5 632.2,984.8 619.2,987.2 606.3,989.4 593.3,991.6 580.4,993.7 567.4,995.8 554.5,997.8 541.5,999.7 528.5,1001.6 515.6,1003.5 502.6,1005.3 489.7,1007.1 476.7,1008.8 463.8,1010.5 450.8,1012.2 437.9,1013.9 424.9,1015.5 411.9,1017.0 399.0,1018.6 386.0,1020.1 373.1,1021.6 360.1,1023.1 347.2,1024.5 334.2,1025.9 321.2,1027.3 308.3,1028.7 295.3,1030.1 282.4,1031.4 269.4,1032.7 256.5,1034.0 250.2,1034.7" fill="none" stroke-width="3" stroke-linejoin="round"/><polyline points="250.2,1034.7 256.5,1034.0 269.4,1032.7 282.4,1031.4 295.3,1030.1 308.3,1028.7 321.2,1027.3 334.2,1025.9 347.2,1024.5 360.1,1023.1 373.1,1021.6 386.0,1020.1 399.0,1018.6 411.9,1017.0 424.9,1015.5 437.9,1013.9 450.8,1012.2 463.8,1010.5 476.7,1008.8 489.7,1007.1 502.6,1005.3 515.6,1003.5 528.5,1001.6 541.5,999.7 554.5,997.8 567.4,995.8 580.4,993.7 593.3,991.6 606.3,989.4 619.2,987.2 632.2,984.8 645.2,982.5 658.1,980.0 671.1,977.4 684.0,974.8 697.0,972.0 709.9,969.1 722.9,966.2 735.9,963.0 748.8,959.8 761.8,956.3 774.7,952.7 787.7,948.9 800.6,944.9 813.6,940.6 826.6,936.0 839.5,931.1 852.5,925.8 865.4,920.1 878.4,913.8 891.3,906.9 904.3,899.3 917.2,890.7 930.2,881.0 943.2,869.7 956.1,856.5 969.1,840.4 982.0,820.2 995.0,794.1 998.9,791.2 1011.4,735.5 1020.0,699.9 1045.1,491.1 1058.1,469.3 1071.0,453.5 1084.0,440.6 1097.0,429.4 1109.9,419.5 1122.9,410.5 1135.8,402.3 1148.8,394.7 1161.7,387.7 1174.7,381.2 1187.7,375.1 1200.6,369.4 1213.6,364.0 1226.5,359.0 1239.5,354.2 1252.4,349.7 1265.4,345.5 1278.4,341.5 1291.3,337.7 1304.3,334.0 1317.2,330.6 1330.2,327.3 1343.1,324.2 1356.1,321.3 1369.0,318.4 1382.0,315.7 1395.0,313.2 1407.9,310.7 1420.9,308.4 1433.8,306.2 1446.8,304.0 1459.7,302.0 1472.7,300.0 1485.7,298.2 1498.6,296.4 1511.6,294.7 1524.5,293.1 1537.5,291.5 1550.4,290.0 1563.4,288.6 1576.4,287.3 1589.3,286.0 1602.3,284.7 1615.2,283.5 1628.2,282.4 1641.1,281.3 1654.1,280.3 1667.0,279.3 1680.0,278.4 1693.0,277.5 1705.9,276.7 1718.9,275.9 1731.8,275.1 1744.8,274.4 1757.7,273.7 1770.7,273.1 1783.7,272.5" fill="none" stroke-width="3" stroke-linejoin="round"/><circle cx="1783.7" cy="272.5" r="7.0" stroke="none"/><circle cx="1771.2" cy="273.1" r="7.0" stroke="none"/><circle cx="1758.7" cy="273.7" r="7.0" stroke="none"/><circle cx="1746.2" cy="274.3" r="7.0" stroke="none"/><circle cx="1733.7" cy="275.0" r="7.0" stroke="none"/><circle cx="1721.2" cy="275.7" r="7.0" stroke="none"/><circle cx="1708.8" cy="276.5" r="7.0" stroke="none"/><circle cx="1696.3" cy="277.3" r="7.0" stroke="none"/><circle cx="1683.8" cy="278.1" r="7.0" stroke="none"/><circle cx="1671.4" cy="279.0" r="7.0" stroke="none"/><circle cx="1658.9" cy="280.0" r="7.0" stroke="none"/><circle cx="1646.4" cy="280.9" r="7.0" stroke="none"/><circle cx="1634.0" cy="281.9" r="7.0" stroke="none"/><circle cx="1621.5" cy="283.0" r="7.0" stroke="none"/><circle cx="1609.1" cy="284.1" r="7.0" stroke="none"/><circle cx="1596.6" cy="285.3" r="7.0" stroke="none"/><circle cx="1584.2" cy="286.5" r="7.0" stroke="none"/><circle cx="1571.7" cy="287.7" r="7.0" stroke="none"/><circle cx="1559.3" cy="289.1" r="7.0" stroke="none"/><circle cx="1546.9" cy="290.4" r="7.0" stroke="none"/><circle cx="1534.5" cy="291.9" r="7.0" stroke="none"/><circle cx="1522.1" cy="293.4" r="7.0" stroke="none"/><circle cx="1509.7" cy="294.9" r="7.0" stroke="none"/><circle cx="1497.3" cy="296.6" r="7.0" stroke="none"/><circle cx="1484.9" cy="298.3" r="7.0" stroke="none"/><circle cx="1472.5" cy="300.1" r="7.0" stroke="none"/><circle cx="1460.1" cy="301.9" r="7.0" stroke="none"/><circle cx="1447.8" cy="303.9" r="7.0" stroke="none"/><circle cx="1435.5" cy="305.9" r="7.0" stroke="none"/><circle cx="1423.1" cy="308.0" r="7.0" stroke="none"/><circle cx="1410.8" cy="310.2" r="7.0" stroke="none"/><circle cx="1398.6" cy="312.5" r="7.0" stroke="none"/><circle cx="1386.3" cy="314.9" r="7.0" stroke="none"/><circle cx="1374.0" cy="317.4" r="7.0" stroke="none"/><circle cx="1361.8" cy="320.0" r="7.0" stroke="none"/><circle cx="1349.6" cy="322.7" r="7.0" stroke="none"/><circle cx="1337.4" cy="325.6" r="7.0" stroke="none"/><circle cx="1325.3" cy="328.6" r="7.0" stroke="none"/><circle cx="1313.2" cy="331.7" r="7.0" stroke="none"/><circle cx="1301.1" cy="334.9" r="7.0" stroke="none"/><circle cx="1289.1" cy="338.3" r="7.0" stroke="none"/><circle cx="1277.1" cy="341.9" r="7.0" stroke="none"/><circle cx="1265.2" cy="345.6" r="7.0" stroke="none"/><circle cx="1253.3" cy="349.5" r="7.0" stroke="none"/><circle cx="1241.5" cy="353.5" r="7.0" stroke="none"/><circle cx="1229.7" cy="357.8" r="7.0" stroke="none"/><circle cx="1218.1" cy="362.3" r="7.0" stroke="none"/><circle cx="1206.5" cy="367.0" r="7.0" stroke="none"/><circle cx="1195.0" cy="371.9" r="7.0" stroke="none"/><circle cx="1183.6" cy="377.0" r="7.0" stroke="none"/><circle cx="1172.3" cy="382.4" r="7.0" stroke="none"/><circle cx="1161.1" cy="388.0" r="7.0" stroke="none"/><circle cx="1150.1" cy="394.0" r="7.0" stroke="none"/><circle cx="1139.3" cy="400.2" r="7.0" stroke="none"/><circle cx="1128.7" cy="406.8" r="7.0" stroke="none"/><circle cx="1118.3" cy="413.7" r="7.0" stroke="none"/><circle cx="1108.1" cy="420.9" r="7.0" stroke="none"/><circle cx="1098.2" cy="428.5" r="7.0" stroke="none"/><circle cx="1088.6" cy="436.6" r="7.0" stroke="none"/><circle cx="1079.5" cy="445.1" r="7.0" stroke="none"/><circle cx="1070.7" cy="454.0" r="7.0" stroke="none"/><circle cx="1062.7" cy="463.6" r="7.0" stroke="none"/><circle cx="1055.4" cy="473.8" r="7.0" stroke="none"/><circle cx="1049.0" cy="484.5" r="7.0" stroke="none"/><circle cx="1045.1" cy="491.1" r="7.0" stroke="none"/><circle cx="1032.2" cy="529.7" r="7.0" stroke="none"/><circle cx="1021.4" cy="591.6" r="7.0" stroke="none"/><circle cx="1009.5" cy="645.8" r="7.0" stroke="none"/><circle cx="995.0" cy="794.1" r="7.0" stroke="none"/><circle cx="250.2" cy="1034.7" r="7.0" stroke="none"/><circle cx="262.7" cy="1033.4" r="7.0" stroke="none"/><circle cx="275.1" cy="1032.2" r="7.0" stroke="none"/><circle cx="287.5" cy="1030.9" r="7.0" stroke="none"/><circle cx="300.0" cy="1029.6" r="7.0" stroke="none"/><circle cx="312.4" cy="1028.3" r="7.0" stroke="none"/><circle cx="324.8" cy="1026.9" r="7.0" stroke="none"/><circle cx="337.2" cy="1025.6" r="7.0" stroke="none"/><circle cx="349.7" cy="1024.2" r="7.0" stroke="none"/><circle cx="362.1" cy="1022.8" r="7.0" stroke="none"/><circle cx="374.5" cy="1021.4" r="7.0" stroke="none"/><circle cx="386.9" cy="1020.0" r="7.0" stroke="none"/><circle cx="399.3" cy="1018.5" r="7.0" stroke="none"/><circle cx="411.8" cy="1017.1" r="7.0" stroke="none"/><circle cx="424.2" cy="1015.5" r="7.0" stroke="none"/><circle cx="436.6" cy="1014.0" r="7.0" stroke="none"/><circle cx="449.0" cy="1012.4" r="7.0" stroke="none"/><circle cx="461.4" cy="1010.9" r="7.0" stroke="none"/><circle cx="473.8" cy="1009.2" r="7.0" stroke="none"/><circle cx="486.2" cy="1007.6" r="7.0" stroke="none"/><circle cx="498.5" cy="1005.9" r="7.0" stroke="none"/><circle cx="510.9" cy="1004.2" r="7.0" stroke="none"/><circle cx="523.3" cy="1002.4" r="7.0" stroke="none"/><circle cx="535.7" cy="1000.6" r="7.0" stroke="none"/><circle cx="548.0" cy="998.7" r="7.0" stroke="none"/><circle cx="560.4" cy="996.9" r="7.0" stroke="none"/><circle cx="572.7" cy="994.9" r="7.0" stroke="none"/><circle cx="585.1" cy="992.9" r="7.0" stroke="none"/><circle cx="597.4" cy="990.9" r="7.0" stroke="none"/><circle cx="609.7" cy="988.8" r="7.0" stroke="none"/><circle cx="622.0" cy="986.7" r="7.0" stroke="none"/><circle cx="634.3" cy="984.4" r="7.0" stroke="none"/><circle cx="646.6" cy="982.2" r="7.0" stroke="none"/><circle cx="658.9" cy="979.8" r="7.0" stroke="none"/><circle cx="671.2" cy="977.4" r="7.0" stroke="none"/><circle cx="683.4" cy="974.9" r="7.0" stroke="none"/><circle cx="695.6" cy="972.3" r="7.0" stroke="none"/><circle cx="707.9" cy="969.6" r="7.0" stroke="none"/><circle cx="720.0" cy="966.8" r="7.0" stroke="none"/><circle cx="732.2" cy="963.9" r="7.0" stroke="none"/><circle cx="744.3" cy="960.9" r="7.0" stroke="none"/><circle cx="756.4" cy="957.7" r="7.0" stroke="none"/><circle cx="768.5" cy="954.5" r="7.0" stroke="none"/><circle cx="780.5" cy="951.0" r="7.0" stroke="none"/><circle cx="792.5" cy="947.4" r="7.0" stroke="none"/><circle cx="804.4" cy="943.6" r="7.0" stroke="none"/><circle cx="816.2" cy="939.6" r="7.0" stroke="none"/><circle cx="828.0" cy="935.4" r="7.0" stroke="none"/><circle cx="839.7" cy="931.0" r="7.0" stroke="none"/><circle cx="851.3" cy="926.3" r="7.0" stroke="none"/><circle cx="862.7" cy="921.3" r="7.0" stroke="none"/><circle cx="874.0" cy="915.9" r="7.0" stroke="none"/><circle cx="885.1" cy="910.2" r="7.0" stroke="none"/><circle cx="896.1" cy="904.2" r="7.0" stroke="none"/><circle cx="906.7" cy="897.7" r="7.0" stroke="none"/><circle cx="917.2" cy="890.8" r="7.0" stroke="none"/><circle cx="927.2" cy="883.3" r="7.0" stroke="none"/><circle cx="936.8" cy="875.3" r="7.0" stroke="none"/><circle cx="946.0" cy="866.8" r="7.0" stroke="none"/><circle cx="954.7" cy="857.9" r="7.0" stroke="none"/><circle cx="962.7" cy="848.3" r="7.0" stroke="none"/><circle cx="970.3" cy="838.4" r="7.0" stroke="none"/><circle cx="977.1" cy="827.9" r="7.0" stroke="none"/><circle cx="982.0" cy="820.2" r="7.0" stroke="none"/><circle cx="250.2" cy="1034.7" r="7.0" stroke="none"/><circle cx="262.7" cy="1033.4" r="7.0" stroke="none"/><circle cx="275.1" cy="1032.2" r="7.0" stroke="none"/><circle cx="287.5" cy="1030.9" r="7.0" stroke="none"/><circle cx="300.0" cy="1029.6" r="7.0" stroke="none"/><circle cx="312.4" cy="1028.3" r="7.0" stroke="none"/><circle cx="324.8" cy="1026.9" r="7.0" stroke="none"/><circle cx="337.2" cy="1025.6" r="7.0" stroke="none"/><circle cx="349.7" cy="1024.2" r="7.0" stroke="none"/><circle cx="362.1" cy="1022.8" r="7.0" stroke="none"/><circle cx="374.5" cy="1021.4" r="7.0" stroke="none"/><circle cx="386.9" cy="1020.0" r="7.0" stroke="none"/><circle cx="399.3" cy="1018.5" r="7.0" stroke="none"/><circle cx="411.8" cy="1017.1" r="7.0" stroke="none"/><circle cx="424.2" cy="1015.5" r="7.0" stroke="none"/><circle cx="436.6" cy="1014.0" r="7.0" stroke="none"/><circle cx="449.0" cy="1012.4" r="7.0" stroke="none"/><circle cx="461.4" cy="1010.9" r="7.0" stroke="none"/><circle cx="473.8" cy="1009.2" r="7.0" stroke="none"/><circle cx="486.2" cy="1007.6" r="7.0" stroke="none"/><circle cx="498.5" cy="1005.9" r="7.0" stroke="none"/><circle cx="510.9" cy="1004.2" r="7.0" stroke="none"/><circle cx="523.3" cy="1002.4" r="7.0" stroke="none"/><circle cx="535.7" cy="1000.6" r="7.0" stroke="none"/><circle cx="548.0" cy="998.7" r="7.0" stroke="none"/><circle cx="560.4" cy="996.9" r="7.0" stroke="none"/><circle cx="572.7" cy="994.9" r="7.0" stroke="none"/><circle cx="585.1" cy="992.9" r="7.0" stroke="none"/><circle cx="597.4" cy="990.9" r="7.0" stroke="none"/><circle cx="609.7" cy="988.8" r="7.0" stroke="none"/><circle cx="622.0" cy="986.7" r="7.0" stroke="none"/><circle cx="634.3" cy="984.4" r="7.0" stroke="none"/><circle cx="646.6" cy="982.2" r="7.0" stroke="none"/><circle cx="658.9" cy="979.8" r="7.0" stroke="none"/><circle cx="671.2" cy="977.4" r="7.0" stroke="none"/><circle cx="683.4" cy="974.9" r="7.0" stroke="none"/><circle cx="695.6" cy="972.3" r="7.0" stroke="none"/><circle cx="707.9" cy="969.6" r="7.0" stroke="none"/><circle cx="720.0" cy="966.8" r="7.0" stroke="none"/><circle cx="732.2" cy="963.9" r="7.0" stroke="none"/><circle cx="744.3" cy="960.9" r="7.0" stroke="none"/><circle cx="756.4" cy="957.7" r="7.0" stroke="none"/><circle cx="768.5" cy="954.5" r="7.0" stroke="none"/><circle cx="780.5" cy="951.0" r="7.0" stroke="none"/><circle cx="792.5" cy="947.4" r="7.0" stroke="none"/><circle cx="804.4" cy="943.6" r="7.0" stroke="none"/><circle cx="816.2" cy="939.6" r="7.0" stroke="none"/><circle cx="828.0" cy="935.4" r="7.0" stroke="none"/><circle cx="839.7" cy="931.0" r="7.0" stroke="none"/><circle cx="851.3" cy="926.3" r="7.0" stroke="none"/><circle cx="862.7" cy="921.3" r="7.0" stroke="none"/><circle cx="874.0" cy="915.9" r="7.0" stroke="none"/><circle cx="885.1" cy="910.2" r="7.0" stroke="none"/><circle cx="896.1" cy="904.2" r="7.0" stroke="none"/><circle cx="906.7" cy="897.7" r="7.0" stroke="none"/><circle cx="917.2" cy="890.8" r="7.0" stroke="none"/><circle cx="927.2" cy="883.3" r="7.0" stroke="none"/><circle cx="936.8" cy="875.3" r="7.0" stroke="none"/><circle cx="946.0" cy="866.8" r="7.0" stroke="none"/><circle cx="954.7" cy="857.9" r="7.0" stroke="none"/><circle cx="962.7" cy="848.3" r="7.0" stroke="none"/><circle cx="970.3" cy="838.4" r="7.0" stroke="none"/><circle cx="977.1" cy="827.9" r="7.0" stroke="none"/><circle cx="982.0" cy="820.2" r="7.0" stroke="none"/><circle cx="995.0" cy="794.1" r="7.0" stroke="none"/><circle cx="998.9" cy="791.2" r="7.0" stroke="none"/><circle cx="1011.4" cy="735.5" r="7.0" stroke="none"/><circle cx="1020.0" cy="699.9" r="7.0" stroke="none"/><circle cx="1783.7" cy="272.5" r="7.0" stroke="none"/><circle cx="1771.2" cy="273.1" r="7.0" stroke="none"/><circle cx="1758.7" cy="273.7" r="7.0" stroke="none"/><circle cx="1746.2" cy="274.3" r="7.0" stroke="none"/><circle cx="1733.7" cy="275.0" r="7.0" stroke="none"/><circle cx="1721.2" cy="275.7" r="7.0" stroke="none"/><circle cx="1708.8" cy="276.5" r="7.0" stroke="none"/><circle cx="1696.3" cy="277.3" r="7.0" stroke="none"/><circle cx="1683.8" cy="278.1" r="7.0" stroke="none"/><circle cx="1671.4" cy="279.0" r="7.0" stroke="none"/><circle cx="1658.9" cy="280.0" r="7.0" stroke="none"/><circle cx="1646.4" cy="280.9" r="7.0" stroke="none"/><circle cx="1634.0" cy="281.9" r="7.0" stroke="none"/><circle cx="1621.5" cy="283.0" r="7.0" stroke="none"/><circle cx="1609.1" cy="284.1" r="7.0" stroke="none"/><circle cx="1596.6" cy="285.3" r="7.0" stroke="none"/><circle cx="1584.2" cy="286.5" r="7.0" stroke="none"/><circle cx="1571.7" cy="287.7" r="7.0" stroke="none"/><circle cx="1559.3" cy="289.1" r="7.0" stroke="none"/><circle cx="1546.9" cy="290.4" r="7.0" stroke="none"/><circle cx="1534.5" cy="291.9" r="7.0" stroke="none"/><circle cx="1522.1" cy="293.4" r="7.0" stroke="none"/><circle cx="1509.7" cy="294.9" r="7.0" stroke="none"/><circle cx="1497.3" cy="296.6" r="7.0" stroke="none"/><circle cx="1484.9" cy="298.3" r="7.0" stroke="none"/><circle cx="1472.5" cy="300.1" r="7.0" stroke="none"/><circle cx="1460.1" cy="301.9" r="7.0" stroke="none"/><circle cx="1447.8" cy="303.9" r="7.0" stroke="none"/><circle cx="1435.5" cy="305.9" r="7.0" stroke="none"/><circle cx="1423.1" cy="308.0" r="7.0" stroke="none"/><circle cx="1410.8" cy="310.2" r="7.0" stroke="none"/><circle cx="1398.6" cy="312.5" r="7.0" stroke="none"/><circle cx="1386.3" cy="314.9" r="7.0" stroke="none"/><circle cx="1374.0" cy="317.4" r="7.0" stroke="none"/><circle cx="1361.8" cy="320.0" r="7.0" stroke="none"/><circle cx="1349.6" cy="322.7" r="7.0" stroke="none"/><circle cx="1337.4" cy="325.6" r="7.0" stroke="none"/><circle cx="1325.3" cy="328.6" r="7.0" stroke="none"/><circle cx="1313.2" cy="331.7" r="7.0" stroke="none"/><circle cx="1301.1" cy="334.9" r="7.0" stroke="none"/><circle cx="1289.1" cy="338.3" r="7.0" stroke="none"/><circle cx="1277.1" cy="341.9" r="7.0" stroke="none"/><circle cx="1265.2" cy="345.6" r="7.0" stroke="none"/><circle cx="1253.3" cy="349.5" r="7.0" stroke="none"/><circle cx="1241.5" cy="353.5" r="7.0" stroke="none"/><circle cx="1229.7" cy="357.8" r="7.0" stroke="none"/><circle cx="1218.1" cy="362.3" r="7.0" stroke="none"/><circle cx="1206.5" cy="367.0" r="7.0" stroke="none"/><circle cx="1195.0" cy="371.9" r="7.0" stroke="none"/><circle cx="1183.6" cy="377.0" r="7.0" stroke="none"/><circle cx="1172.3" cy="382.4" r="7.0" stroke="none"/><circle cx="1161.1" cy="388.0" r="7.0" stroke="none"/><circle cx="1150.1" cy="394.0" r="7.0" stroke="none"/><circle cx="1139.3" cy="400.2" r="7.0" stroke="none"/><circle cx="1128.7" cy="406.8" r="7.0" stroke="none"/><circle cx="1118.3" cy="413.7" r="7.0" stroke="none"/><circle cx="1108.1" cy="420.9" r="7.0" stroke="none"/><circle cx="1098.2" cy="428.5" r="7.0" stroke="none"/><circle cx="1088.6" cy="436.6" r="7.0" stroke="none"/><circle cx="1079.5" cy="445.1" r="7.0" stroke="none"/><circle cx="1070.7" cy="454.0" r="7.0" stroke="none"/><circle cx="1062.7" cy="463.6" r="7.0" stroke="none"/><circle cx="1055.4" cy="473.8" r="7.0" stroke="none"/><circle cx="1049.0" cy="484.5" r="7.0" stroke="none"/><circle cx="1045.1" cy="491.1" r="7.0" stroke="none"/></g>
<line x1="179.5" y1="652.6" x2="1855" y2="652.6" stroke="#000" stroke-width="3"/>
<line x1="1018" y1="34.5" x2="1018" y2="1272.3" stroke="#000" stroke-width="5"/>
<rect x="179.5" y="34.5" width="1675.5" height="1237.8" fill="none" stroke="#000" stroke-width="4.2"/>
<rect x="238.5" y="204.5" width="373" height="399" fill="#fff" stroke="#2a2a2a" stroke-width="2.6"/>
<line x1="611.6" y1="203" x2="611.6" y2="605" stroke="#777" stroke-width="4"/>
<line x1="260" y1="250.6" x2="379.3" y2="250.6" stroke="#000000" stroke-width="3.2"/>
<circle cx="319.6" cy="250.6" r="5.4" fill="#000000"/>
<line x1="260" y1="326.8" x2="379.3" y2="326.8" stroke="#ff0000" stroke-width="3.2"/>
<circle cx="319.6" cy="326.8" r="5.4" fill="#ff0000"/>
<line x1="260" y1="404.0" x2="379.3" y2="404.0" stroke="#00ff00" stroke-width="3.2"/>
<circle cx="319.6" cy="404.0" r="5.4" fill="#00ff00"/>
<line x1="260" y1="480.5" x2="379.3" y2="480.5" stroke="#0000ff" stroke-width="3.2"/>
<circle cx="319.6" cy="480.5" r="5.4" fill="#0000ff"/>
<line x1="260" y1="557.4" x2="379.3" y2="557.4" stroke="#00ffff" stroke-width="3.2"/>
<circle cx="319.6" cy="557.4" r="5.4" fill="#00ffff"/>
<rect x="1071.2" y="675.7" width="755.0999999999999" height="541.5" fill="#fff"/>
<line x1="1071.2" y1="946.4" x2="1826.3" y2="946.4" stroke="#111" stroke-width="2"/>
<line x1="1448.4" y1="675.7" x2="1448.4" y2="1226.2" stroke="#777" stroke-width="3"/>
<path d="M1061.2,1215.8H1071.2 M1826.3,1215.8H1816.3 M1064.2,1148.5H1071.2 M1826.3,1148.5H1820.3 M1061.2,1081.1H1071.2 M1826.3,1081.1H1816.3 M1064.2,1013.8H1071.2 M1826.3,1013.8H1820.3 M1061.2,946.4H1071.2 M1826.3,946.4H1816.3 M1064.2,879.0H1071.2 M1826.3,879.0H1820.3 M1061.2,811.7H1071.2 M1826.3,811.7H1816.3 M1064.2,744.3H1071.2 M1826.3,744.3H1820.3 M1061.2,677.0H1071.2 M1826.3,677.0H1816.3 M1111.8,1217.2V1227.2 M1196.0,1217.2V1223.2 M1280.1,1217.2V1227.2 M1364.2,1217.2V1223.2 M1448.4,1217.2V1227.2 M1532.6,1217.2V1223.2 M1616.7,1217.2V1227.2 M1700.9,1217.2V1223.2 M1785.0,1217.2V1227.2" stroke="#222" stroke-width="2.4" fill="none"/>
<path d="M1104.7,675.7V684.7 M1190.7,675.7V680.7 M1276.6,675.7V684.7 M1362.6,675.7V680.7 M1534.5,675.7V680.7 M1620.5,675.7V684.7 M1706.4,675.7V680.7 M1792.4,675.7V684.7" stroke="#777" stroke-width="2.6" fill="none"/>
<clipPath id="ic"><rect x="1071.2" y="675.7" width="755.1" height="541.5"/></clipPath>
<g clip-path="url(#ic)"><g fill="#000000" stroke="#000000"><polyline points="1869.2,783.2 1823.7,788.1 1785.7,792.2 1743.1,796.9 1700.6,803.6 1659.1,811.0 1616.5,819.8 1574.0,833.3 1531.5,851.4 1489.9,878.4 1448.4,939.7 1406.3,1008.4 1364.1,1044.1 1322.5,1060.9 1280.0,1073.7 1237.4,1082.4 1196.0,1089.9 1153.4,1095.9 1111.8,1100.6 1071.4,1104.7 1009.1,1110.1" fill="none" stroke-width="3.4" stroke-linejoin="round"/><polyline points="1009.1,1110.1 1071.4,1104.7 1111.1,1100.6 1153.7,1095.9 1196.2,1089.2 1237.7,1081.8 1280.3,1073.0 1322.8,1059.5 1365.3,1042.7 1406.3,1021.8 1448.4,961.2 1490.3,879.7 1532.7,850.8 1574.3,832.6 1616.8,819.1 1659.4,810.4 1700.9,802.9 1743.4,796.9 1785.0,792.2 1823.7,788.1 1869.2,783.2" fill="none" stroke-width="3.4" stroke-linejoin="round"/><circle cx="1869.2" cy="783.2" r="3.6" stroke="none"/><circle cx="1823.7" cy="788.1" r="3.6" stroke="none"/><circle cx="1785.7" cy="792.2" r="3.6" stroke="none"/><circle cx="1743.1" cy="796.9" r="3.6" stroke="none"/><circle cx="1700.6" cy="803.6" r="3.6" stroke="none"/><circle cx="1659.1" cy="811.0" r="3.6" stroke="none"/><circle cx="1616.5" cy="819.8" r="3.6" stroke="none"/><circle cx="1574.0" cy="833.3" r="3.6" stroke="none"/><circle cx="1531.5" cy="851.4" r="3.6" stroke="none"/><circle cx="1489.9" cy="878.4" r="3.6" stroke="none"/><circle cx="1448.4" cy="939.7" r="3.6" stroke="none"/><circle cx="1406.3" cy="1008.4" r="3.6" stroke="none"/><circle cx="1364.1" cy="1044.1" r="3.6" stroke="none"/><circle cx="1322.5" cy="1060.9" r="3.6" stroke="none"/><circle cx="1280.0" cy="1073.7" r="3.6" stroke="none"/><circle cx="1237.4" cy="1082.4" r="3.6" stroke="none"/><circle cx="1196.0" cy="1089.9" r="3.6" stroke="none"/><circle cx="1153.4" cy="1095.9" r="3.6" stroke="none"/><circle cx="1111.8" cy="1100.6" r="3.6" stroke="none"/><circle cx="1071.4" cy="1104.7" r="3.6" stroke="none"/><circle cx="1009.1" cy="1110.1" r="3.6" stroke="none"/><circle cx="1009.1" cy="1110.1" r="3.6" stroke="none"/><circle cx="1071.4" cy="1104.7" r="3.6" stroke="none"/><circle cx="1111.1" cy="1100.6" r="3.6" stroke="none"/><circle cx="1153.7" cy="1095.9" r="3.6" stroke="none"/><circle cx="1196.2" cy="1089.2" r="3.6" stroke="none"/><circle cx="1237.7" cy="1081.8" r="3.6" stroke="none"/><circle cx="1280.3" cy="1073.0" r="3.6" stroke="none"/><circle cx="1322.8" cy="1059.5" r="3.6" stroke="none"/><circle cx="1365.3" cy="1042.7" r="3.6" stroke="none"/><circle cx="1406.3" cy="1021.8" r="3.6" stroke="none"/><circle cx="1448.4" cy="961.2" r="3.6" stroke="none"/><circle cx="1490.3" cy="879.7" r="3.6" stroke="none"/><circle cx="1532.7" cy="850.8" r="3.6" stroke="none"/><circle cx="1574.3" cy="832.6" r="3.6" stroke="none"/><circle cx="1616.8" cy="819.1" r="3.6" stroke="none"/><circle cx="1659.4" cy="810.4" r="3.6" stroke="none"/><circle cx="1700.9" cy="802.9" r="3.6" stroke="none"/><circle cx="1743.4" cy="796.9" r="3.6" stroke="none"/><circle cx="1785.0" cy="792.2" r="3.6" stroke="none"/><circle cx="1823.7" cy="788.1" r="3.6" stroke="none"/><circle cx="1869.2" cy="783.2" r="3.6" stroke="none"/></g>
<g fill="#ff0000" stroke="#ff0000"><polyline points="2003.8,800.7 1932.3,805.9 1860.7,811.9 1792.6,817.8 1725.3,827.2 1663.0,836.6 1594.8,850.1 1527.5,869.6 1467.8,903.3 1403.8,930.6 1308.7,1019.8 1275.1,1042.7 1204.4,1055.5 1101.7,1070.3 1052.9,1074.6 981.4,1080.4 909.8,1085.5" fill="none" stroke-width="3.4" stroke-linejoin="round"/><polyline points="909.8,1085.5 981.4,1080.4 1052.9,1074.6 1101.7,1074.4 1204.4,1060.9 1275.1,1047.4 1344.1,1029.9 1413.1,998.9 1458.5,978.1 1581.4,873.0 1647.8,852.1 1710.1,834.6 1780.8,823.1 1860.7,811.9 1932.3,805.9 2003.8,800.7" fill="none" stroke-width="3.4" stroke-linejoin="round"/><circle cx="2003.8" cy="800.7" r="3.6" stroke="none"/><circle cx="1932.3" cy="805.9" r="3.6" stroke="none"/><circle cx="1860.7" cy="811.9" r="3.6" stroke="none"/><circle cx="1792.6" cy="817.8" r="3.6" stroke="none"/><circle cx="1725.3" cy="827.2" r="3.6" stroke="none"/><circle cx="1663.0" cy="836.6" r="3.6" stroke="none"/><circle cx="1594.8" cy="850.1" r="3.6" stroke="none"/><circle cx="1527.5" cy="869.6" r="3.6" stroke="none"/><circle cx="1467.8" cy="903.3" r="3.6" stroke="none"/><circle cx="1403.8" cy="930.6" r="3.6" stroke="none"/><circle cx="1308.7" cy="1019.8" r="3.6" stroke="none"/><circle cx="1275.1" cy="1042.7" r="3.6" stroke="none"/><circle cx="1204.4" cy="1055.5" r="3.6" stroke="none"/><circle cx="1101.7" cy="1070.3" r="3.6" stroke="none"/><circle cx="1052.9" cy="1074.6" r="3.6" stroke="none"/><circle cx="981.4" cy="1080.4" r="3.6" stroke="none"/><circle cx="909.8" cy="1085.5" r="3.6" stroke="none"/><circle cx="909.8" cy="1085.5" r="3.6" stroke="none"/><circle cx="981.4" cy="1080.4" r="3.6" stroke="none"/><circle cx="1052.9" cy="1074.6" r="3.6" stroke="none"/><circle cx="1101.7" cy="1074.4" r="3.6" stroke="none"/><circle cx="1204.4" cy="1060.9" r="3.6" stroke="none"/><circle cx="1275.1" cy="1047.4" r="3.6" stroke="none"/><circle cx="1344.1" cy="1029.9" r="3.6" stroke="none"/><circle cx="1413.1" cy="998.9" r="3.6" stroke="none"/><circle cx="1458.5" cy="978.1" r="3.6" stroke="none"/><circle cx="1581.4" cy="873.0" r="3.6" stroke="none"/><circle cx="1647.8" cy="852.1" r="3.6" stroke="none"/><circle cx="1710.1" cy="834.6" r="3.6" stroke="none"/><circle cx="1780.8" cy="823.1" r="3.6" stroke="none"/><circle cx="1860.7" cy="811.9" r="3.6" stroke="none"/><circle cx="1932.3" cy="805.9" r="3.6" stroke="none"/><circle cx="2003.8" cy="800.7" r="3.6" stroke="none"/></g>
<g fill="#00ff00" stroke="#00ff00"><polyline points="2002.9,823.4 1931.4,828.0 1859.9,833.0 1792.6,835.3 1725.3,842.7 1663.0,850.8 1594.8,861.5 1527.5,879.0 1467.8,906.7 1403.8,934.3 1308.7,1017.8 1236.3,1036.6 1172.4,1046.8 1101.7,1054.2 1052.9,1057.4 981.4,1062.4 909.8,1066.7" fill="none" stroke-width="3.4" stroke-linejoin="round"/><polyline points="909.8,1066.7 981.4,1062.4 1052.9,1057.4 1101.7,1059.5 1172.4,1050.1 1236.3,1041.4 1308.7,1027.2 1344.1,1021.8 1413.1,993.5 1460.2,974.7 1581.4,875.0 1647.8,857.5 1710.1,846.7 1778.3,841.3 1859.9,833.0 1931.4,828.0 2002.9,823.4" fill="none" stroke-width="3.4" stroke-linejoin="round"/><circle cx="2002.9" cy="823.4" r="3.6" stroke="none"/><circle cx="1931.4" cy="828.0" r="3.6" stroke="none"/><circle cx="1859.9" cy="833.0" r="3.6" stroke="none"/><circle cx="1792.6" cy="835.3" r="3.6" stroke="none"/><circle cx="1725.3" cy="842.7" r="3.6" stroke="none"/><circle cx="1663.0" cy="850.8" r="3.6" stroke="none"/><circle cx="1594.8" cy="861.5" r="3.6" stroke="none"/><circle cx="1527.5" cy="879.0" r="3.6" stroke="none"/><circle cx="1467.8" cy="906.7" r="3.6" stroke="none"/><circle cx="1403.8" cy="934.3" r="3.6" stroke="none"/><circle cx="1308.7" cy="1017.8" r="3.6" stroke="none"/><circle cx="1236.3" cy="1036.6" r="3.6" stroke="none"/><circle cx="1172.4" cy="1046.8" r="3.6" stroke="none"/><circle cx="1101.7" cy="1054.2" r="3.6" stroke="none"/><circle cx="1052.9" cy="1057.4" r="3.6" stroke="none"/><circle cx="981.4" cy="1062.4" r="3.6" stroke="none"/><circle cx="909.8" cy="1066.7" r="3.6" stroke="none"/><circle cx="909.8" cy="1066.7" r="3.6" stroke="none"/><circle cx="981.4" cy="1062.4" r="3.6" stroke="none"/><circle cx="1052.9" cy="1057.4" r="3.6" stroke="none"/><circle cx="1101.7" cy="1059.5" r="3.6" stroke="none"/><circle cx="1172.4" cy="1050.1" r="3.6" stroke="none"/><circle cx="1236.3" cy="1041.4" r="3.6" stroke="none"/><circle cx="1308.7" cy="1027.2" r="3.6" stroke="none"/><circle cx="1344.1" cy="1021.8" r="3.6" stroke="none"/><circle cx="1413.1" cy="993.5" r="3.6" stroke="none"/><circle cx="1460.2" cy="974.7" r="3.6" stroke="none"/><circle cx="1581.4" cy="875.0" r="3.6" stroke="none"/><circle cx="1647.8" cy="857.5" r="3.6" stroke="none"/><circle cx="1710.1" cy="846.7" r="3.6" stroke="none"/><circle cx="1778.3" cy="841.3" r="3.6" stroke="none"/><circle cx="1859.9" cy="833.0" r="3.6" stroke="none"/><circle cx="1931.4" cy="828.0" r="3.6" stroke="none"/><circle cx="2002.9" cy="823.4" r="3.6" stroke="none"/></g>
<g fill="#0000ff" stroke="#0000ff"><polyline points="2037.5,814.4 1965.9,818.8 1894.4,823.8 1792.6,830.6 1725.3,838.6 1663.0,846.7 1594.8,858.2 1527.5,876.4 1467.8,905.3 1403.8,930.6 1308.7,1020.5 1236.3,1039.3 1172.4,1049.4 1101.7,1058.2 1052.9,1062.0 981.4,1067.3 909.8,1071.9" fill="none" stroke-width="3.4" stroke-linejoin="round"/><polyline points="909.8,1071.9 981.4,1067.3 1052.9,1062.0 1101.7,1063.6 1172.4,1052.8 1236.3,1044.1 1308.7,1029.2 1344.1,1023.9 1413.1,995.6 1460.2,976.0 1581.4,873.0 1647.8,855.5 1710.1,844.7 1778.3,836.6 1894.4,823.8 1965.9,818.8 2037.5,814.4" fill="none" stroke-width="3.4" stroke-linejoin="round"/><circle cx="2037.5" cy="814.4" r="3.6" stroke="none"/><circle cx="1965.9" cy="818.8" r="3.6" stroke="none"/><circle cx="1894.4" cy="823.8" r="3.6" stroke="none"/><circle cx="1792.6" cy="830.6" r="3.6" stroke="none"/><circle cx="1725.3" cy="838.6" r="3.6" stroke="none"/><circle cx="1663.0" cy="846.7" r="3.6" stroke="none"/><circle cx="1594.8" cy="858.2" r="3.6" stroke="none"/><circle cx="1527.5" cy="876.4" r="3.6" stroke="none"/><circle cx="1467.8" cy="905.3" r="3.6" stroke="none"/><circle cx="1403.8" cy="930.6" r="3.6" stroke="none"/><circle cx="1308.7" cy="1020.5" r="3.6" stroke="none"/><circle cx="1236.3" cy="1039.3" r="3.6" stroke="none"/><circle cx="1172.4" cy="1049.4" r="3.6" stroke="none"/><circle cx="1101.7" cy="1058.2" r="3.6" stroke="none"/><circle cx="1052.9" cy="1062.0" r="3.6" stroke="none"/><circle cx="981.4" cy="1067.3" r="3.6" stroke="none"/><circle cx="909.8" cy="1071.9" r="3.6" stroke="none"/><circle cx="909.8" cy="1071.9" r="3.6" stroke="none"/><circle cx="981.4" cy="1067.3" r="3.6" stroke="none"/><circle cx="1052.9" cy="1062.0" r="3.6" stroke="none"/><circle cx="1101.7" cy="1063.6" r="3.6" stroke="none"/><circle cx="1172.4" cy="1052.8" r="3.6" stroke="none"/><circle cx="1236.3" cy="1044.1" r="3.6" stroke="none"/><circle cx="1308.7" cy="1029.2" r="3.6" stroke="none"/><circle cx="1344.1" cy="1023.9" r="3.6" stroke="none"/><circle cx="1413.1" cy="995.6" r="3.6" stroke="none"/><circle cx="1460.2" cy="976.0" r="3.6" stroke="none"/><circle cx="1581.4" cy="873.0" r="3.6" stroke="none"/><circle cx="1647.8" cy="855.5" r="3.6" stroke="none"/><circle cx="1710.1" cy="844.7" r="3.6" stroke="none"/><circle cx="1778.3" cy="836.6" r="3.6" stroke="none"/><circle cx="1894.4" cy="823.8" r="3.6" stroke="none"/><circle cx="1965.9" cy="818.8" r="3.6" stroke="none"/><circle cx="2037.5" cy="814.4" r="3.6" stroke="none"/></g>
<g fill="#00ffff" stroke="#00ffff"><polyline points="2028.2,840.1 1956.7,844.0 1885.1,848.3 1792.6,851.4 1725.3,858.2 1663.0,865.6 1594.8,876.4 1527.5,892.5 1467.8,919.5 1402.1,943.0 1308.7,1008.4 1236.3,1020.5 1172.4,1027.9 1101.7,1035.3 1052.9,1039.8 981.4,1044.7 909.8,1048.9" fill="none" stroke-width="3.4" stroke-linejoin="round"/><polyline points="909.8,1048.9 981.4,1044.7 1052.9,1039.8 1101.7,1038.0 1172.4,1030.6 1236.3,1023.2 1308.7,1012.4 1344.1,1006.3 1413.1,982.1 1460.2,966.6 1577.1,886.5 1645.3,873.7 1710.1,865.6 1778.3,859.5 1885.1,848.3 1956.7,844.0 2028.2,840.1" fill="none" stroke-width="3.4" stroke-linejoin="round"/><circle cx="2028.2" cy="840.1" r="3.6" stroke="none"/><circle cx="1956.7" cy="844.0" r="3.6" stroke="none"/><circle cx="1885.1" cy="848.3" r="3.6" stroke="none"/><circle cx="1792.6" cy="851.4" r="3.6" stroke="none"/><circle cx="1725.3" cy="858.2" r="3.6" stroke="none"/><circle cx="1663.0" cy="865.6" r="3.6" stroke="none"/><circle cx="1594.8" cy="876.4" r="3.6" stroke="none"/><circle cx="1527.5" cy="892.5" r="3.6" stroke="none"/><circle cx="1467.8" cy="919.5" r="3.6" stroke="none"/><circle cx="1402.1" cy="943.0" r="3.6" stroke="none"/><circle cx="1308.7" cy="1008.4" r="3.6" stroke="none"/><circle cx="1236.3" cy="1020.5" r="3.6" stroke="none"/><circle cx="1172.4" cy="1027.9" r="3.6" stroke="none"/><circle cx="1101.7" cy="1035.3" r="3.6" stroke="none"/><circle cx="1052.9" cy="1039.8" r="3.6" stroke="none"/><circle cx="981.4" cy="1044.7" r="3.6" stroke="none"/><circle cx="909.8" cy="1048.9" r="3.6" stroke="none"/><circle cx="909.8" cy="1048.9" r="3.6" stroke="none"/><circle cx="981.4" cy="1044.7" r="3.6" stroke="none"/><circle cx="1052.9" cy="1039.8" r="3.6" stroke="none"/><circle cx="1101.7" cy="1038.0" r="3.6" stroke="none"/><circle cx="1172.4" cy="1030.6" r="3.6" stroke="none"/><circle cx="1236.3" cy="1023.2" r="3.6" stroke="none"/><circle cx="1308.7" cy="1012.4" r="3.6" stroke="none"/><circle cx="1344.1" cy="1006.3" r="3.6" stroke="none"/><circle cx="1413.1" cy="982.1" r="3.6" stroke="none"/><circle cx="1460.2" cy="966.6" r="3.6" stroke="none"/><circle cx="1577.1" cy="886.5" r="3.6" stroke="none"/><circle cx="1645.3" cy="873.7" r="3.6" stroke="none"/><circle cx="1710.1" cy="865.6" r="3.6" stroke="none"/><circle cx="1778.3" cy="859.5" r="3.6" stroke="none"/><circle cx="1885.1" cy="848.3" r="3.6" stroke="none"/><circle cx="1956.7" cy="844.0" r="3.6" stroke="none"/><circle cx="2028.2" cy="840.1" r="3.6" stroke="none"/></g></g>
<path d="M1826.3,675.7V1217.2" fill="none" stroke="#444" stroke-width="2.4"/>
<path d="M1061.2,675.7H1827.3" fill="none" stroke="#8c8c8c" stroke-width="2.8"/>
<line x1="1071.2" y1="675.7" x2="1071.2" y2="1217.2" stroke="#000" stroke-width="2.4"/>
<line x1="1063.2" y1="1217.2" x2="1826.3" y2="1217.2" stroke="#222" stroke-width="2.4"/>
<rect x="1092" y="712.5" width="167.5" height="175.5" fill="#fff" stroke="#999" stroke-width="2.2"/>
<line x1="1099.6" y1="733.9" x2="1156.5" y2="733.9" stroke="#000000" stroke-width="3"/>
<circle cx="1128" cy="733.9" r="3.5" fill="#000000"/>
<line x1="1099.6" y1="767.2" x2="1156.5" y2="767.2" stroke="#ff0000" stroke-width="3"/>
<circle cx="1128" cy="767.2" r="3.5" fill="#ff0000"/>
<line x1="1099.6" y1="800.6" x2="1156.5" y2="800.6" stroke="#00ff00" stroke-width="3"/>
<circle cx="1128" cy="800.6" r="3.5" fill="#00ff00"/>
<line x1="1099.6" y1="833.9" x2="1156.5" y2="833.9" stroke="#0000ff" stroke-width="3"/>
<circle cx="1128" cy="833.9" r="3.5" fill="#0000ff"/>
<line x1="1099.6" y1="868.0" x2="1156.5" y2="868.0" stroke="#00ffff" stroke-width="3"/>
<circle cx="1128" cy="868.0" r="3.5" fill="#00ffff"/>
<g fill="#000">
<g id="y40" transform="translate(95.58,50.60) scale(0.9151,0.9947)"><text x="0" y="0" font-size="56" font-weight="normal" stroke="#fff" stroke-width="1.0">40</text></g>
<g id="y20" transform="translate(94.60,358.50) scale(0.9333,0.9763)"><text x="0" y="0" font-size="56" font-weight="normal" stroke="#fff" stroke-width="1.0">20</text></g>
<g id="y0" transform="translate(121.03,667.60) scale(0.9333,0.9421)"><text x="0" y="0" font-size="56" font-weight="normal" stroke="#fff" stroke-width="1.0">0</text></g>
<g id="ym20" transform="translate(80.92,978.60) scale(0.8914,0.9921)"><text x="0" y="0" font-size="56" font-weight="normal" stroke="#fff" stroke-width="1.0">-20</text></g>
<g id="ym40" transform="translate(80.62,1287.90) scale(0.8900,0.9974)"><text x="0" y="0" font-size="56" font-weight="normal" stroke="#fff" stroke-width="1.0">-40</text></g>
<g id="xm5000" transform="translate(195.57,1351.50) scale(0.9127,0.9816)"><text x="0" y="0" font-size="56" font-weight="normal" stroke="#fff" stroke-width="1.0">-5000</text></g>
<g id="xm2500" transform="translate(576.67,1351.50) scale(0.9127,0.9816)"><text x="0" y="0" font-size="56" font-weight="normal" stroke="#fff" stroke-width="1.0">-2500</text></g>
<g id="x0" transform="translate(1003.80,1352.50) scale(1.0000,1.0132)"><text x="0" y="0" font-size="56" font-weight="normal" stroke="#fff" stroke-width="1.0">0</text></g>
<g id="x2500" transform="translate(1345.50,1352.10) scale(0.9318,1.0105)"><text x="0" y="0" font-size="56" font-weight="normal" stroke="#fff" stroke-width="1.0">2500</text></g>
<g id="x5000" transform="translate(1726.28,1352.10) scale(0.9292,1.0105)"><text x="0" y="0" font-size="56" font-weight="normal" stroke="#fff" stroke-width="1.0">5000</text></g>
<g id="xt" transform="translate(927.56,1447.08) scale(0.8794,0.9615)"><text x="0" y="0" font-size="75" font-weight="normal" stroke="#fff" stroke-width="1.0">H (Oe)</text></g>
<g id="yt1" transform="translate(71.80,827.59) scale(0.9667,1.0935)"><text x="0" y="0" transform="rotate(-90)" font-size="64" font-weight="normal" stroke="#fff" stroke-width="1.0">Ms</text></g>
<g id="yt2" transform="translate(68.62,682.94) scale(0.9982,1.1117)"><text x="0" y="0" transform="rotate(-90)" font-size="64" font-weight="normal" stroke="#fff" stroke-width="1.0">(emu/g)</text></g>
<g id="formula" transform="translate(218.01,140.00) scale(0.9285,1.0000)"><text x="0" y="0" font-size="58" font-weight="normal" stroke="#fff" stroke-width="1.0">Gd<tspan dy="22">x</tspan><tspan dy="-22">Mg</tspan><tspan dy="22">0.5</tspan><tspan dy="-22">Zn</tspan><tspan dy="22">0.5</tspan><tspan dy="-22">Fe</tspan><tspan dy="22">2-x</tspan><tspan dy="-22">O</tspan><tspan dy="22">4</tspan></text></g>
<g id="leg0" transform="translate(390.52,271.50) scale(0.8917,1.0167)"><text x="0" y="0" font-size="64" font-weight="normal" stroke="#fff" stroke-width="1.0">X=0</text></g>
<g id="leg1" transform="translate(390.55,347.70) scale(0.8774,1.0190)"><text x="0" y="0" font-size="64" font-weight="normal" stroke="#fff" stroke-width="1.0">X=0.025</text></g>
<g id="leg2" transform="translate(390.96,424.40) scale(0.8704,1.0286)"><text x="0" y="0" font-size="64" font-weight="normal" stroke="#fff" stroke-width="1.0">X=0.05</text></g>
<g id="leg3" transform="translate(390.95,501.10) scale(0.8760,1.0286)"><text x="0" y="0" font-size="64" font-weight="normal" stroke="#fff" stroke-width="1.0">X=0.075</text></g>
<g id="leg4" transform="translate(391.00,577.80) scale(0.8494,1.0286)"><text x="0" y="0" font-size="64" font-weight="normal" stroke="#fff" stroke-width="1.0">X=0.1</text></g>
<g id="ileg0" transform="translate(1161.40,743.70) scale(0.9102,1.0389)"><text x="0" y="0" font-size="28" font-weight="normal">X=0</text></g>
<g id="ileg1" transform="translate(1161.40,776.70) scale(0.9031,1.0667)"><text x="0" y="0" font-size="28" font-weight="normal">X=0.025</text></g>
<g id="ileg2" transform="translate(1161.40,811.10) scale(0.8988,1.1278)"><text x="0" y="0" font-size="28" font-weight="normal">X=0.05</text></g>
<g id="ileg3" transform="translate(1161.40,844.40) scale(0.9031,1.0389)"><text x="0" y="0" font-size="28" font-weight="normal">X=0.075</text></g>
<g id="ileg4" transform="translate(1161.40,877.70) scale(0.8700,1.0389)"><text x="0" y="0" font-size="28" font-weight="normal">X=0.1</text></g>
<g id="iy40" transform="translate(1033.00,683.60) scale(0.9080,1.0529)"><text x="0" y="0" font-size="26" font-weight="bold">40</text></g>
<g id="iy20" transform="translate(1032.89,819.20) scale(0.9125,1.0471)"><text x="0" y="0" font-size="26" font-weight="bold">20</text></g>
<g id="iy0" transform="translate(1043.90,954.10) scale(1.0000,0.9647)"><text x="0" y="0" font-size="26" font-weight="bold">0</text></g>
<g id="iym20" transform="translate(1023.14,1090.10) scale(0.9636,1.0765)"><text x="0" y="0" font-size="26" font-weight="bold">-20</text></g>
<g id="iym40" transform="translate(1024.98,1223.80) scale(0.9212,0.8941)"><text x="0" y="0" font-size="26" font-weight="bold">-40</text></g>
<g id="ixm400" transform="translate(1090.56,1253.10) scale(0.9413,1.0353)"><text x="0" y="0" font-size="26" font-weight="bold">-400</text></g>
<g id="ixm200" transform="translate(1258.06,1253.10) scale(0.9413,1.0353)"><text x="0" y="0" font-size="26" font-weight="bold">-200</text></g>
<g id="ix0" transform="translate(1442.11,1253.50) scale(0.9909,1.0294)"><text x="0" y="0" font-size="26" font-weight="bold">0</text></g>
<g id="ix200" transform="translate(1599.38,1253.10) scale(0.9162,1.0353)"><text x="0" y="0" font-size="26" font-weight="bold">200</text></g>
<g id="ix400" transform="translate(1767.30,1253.10) scale(0.9211,1.0353)"><text x="0" y="0" font-size="26" font-weight="bold">400</text></g>
</g>
</svg>
</div></body></html>
